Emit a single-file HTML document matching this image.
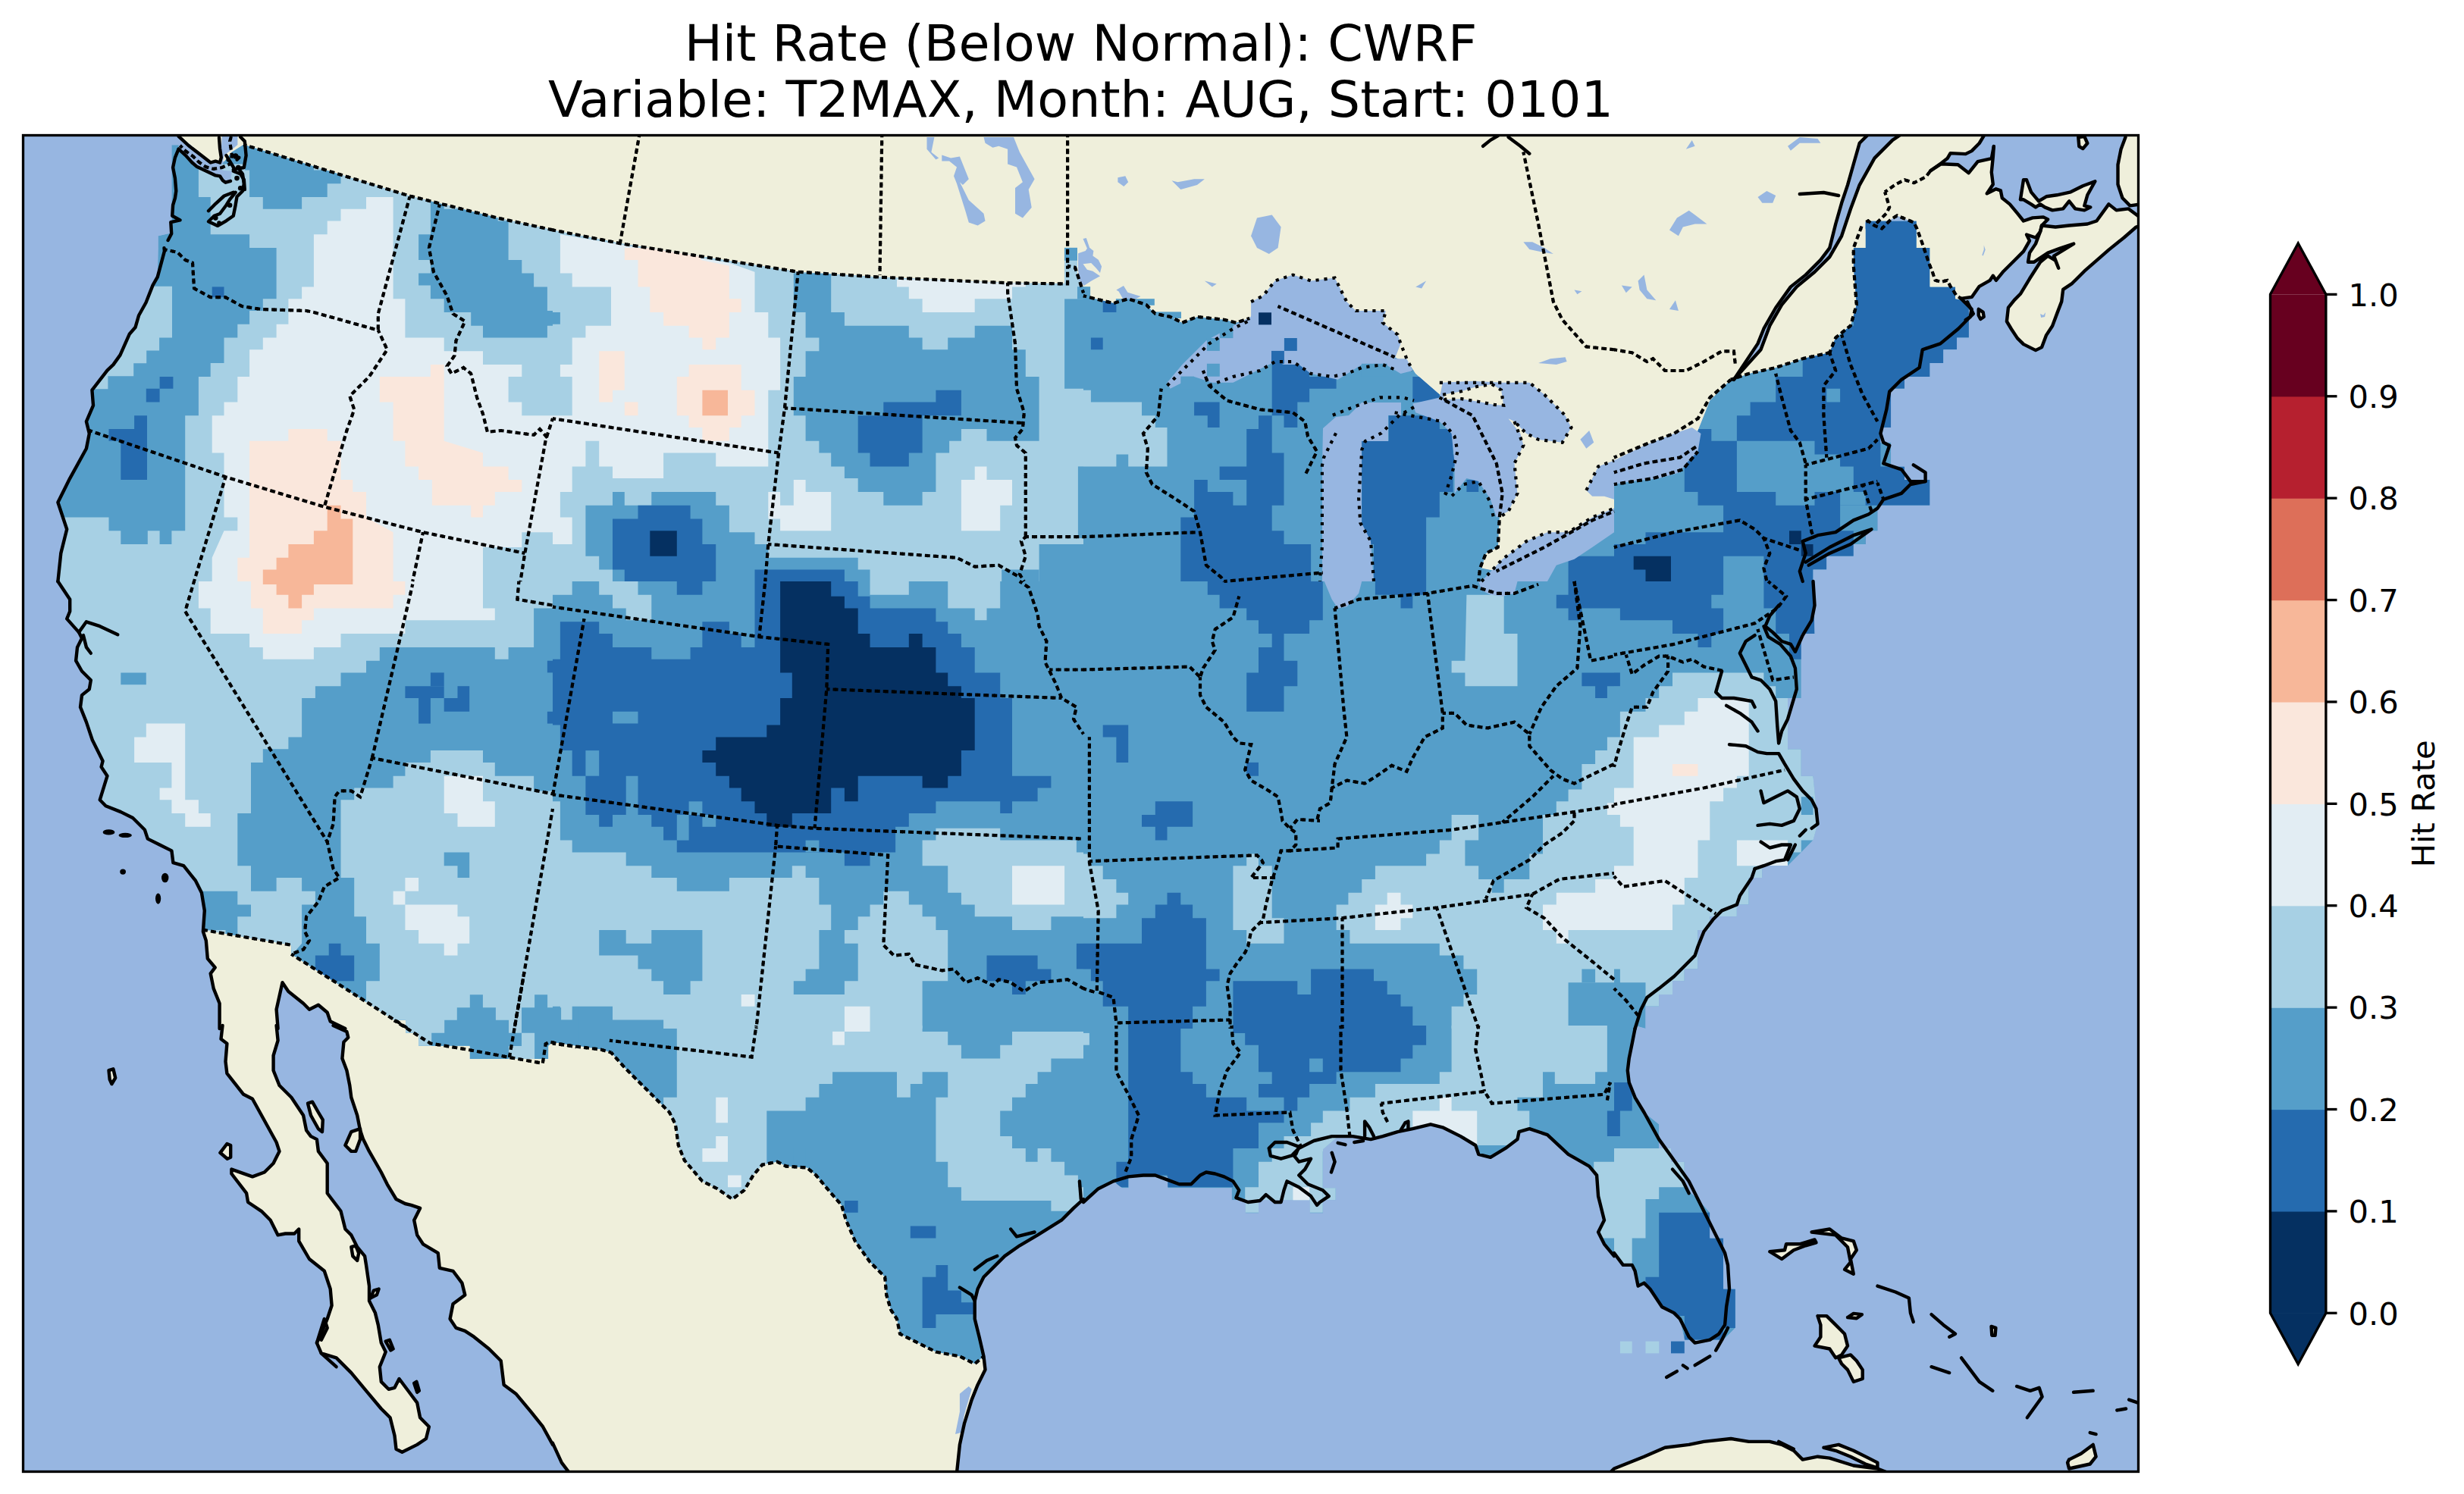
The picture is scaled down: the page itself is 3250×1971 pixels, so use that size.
<!DOCTYPE html><html><head><meta charset="utf-8"><title>Hit Rate (Below Normal): CWRF</title><style>html,body{margin:0;padding:0;background:#fff;}svg{display:block;}text{font-family:"DejaVu Sans","Liberation Sans",sans-serif;}</style></head><body>
<svg width="3250" height="1971" viewBox="0 0 3250 1971">
<rect width="3250" height="1971" fill="#fff"/>
<text x="1425.5" y="80" font-size="66.67" text-anchor="middle">Hit Rate (Below Normal): CWRF</text>
<text x="1425.5" y="154" font-size="66.67" text-anchor="middle">Variable: T2MAX, Month: AUG, Start: 0101</text>
<defs><clipPath id="ax"><rect x="30.5" y="178.5" width="2790.0" height="1763.0"/></clipPath>
<clipPath id="us"><polygon points="236.3,196.7 265.9,214.5 289.6,220.4 305.4,200.7 321.2,190.8 538.3,258.0 656.7,287.6 729.0,303.4 729.0,303.4 817.8,321.1 1052.7,358.7 1163.3,365.8 1329.1,373.3 1408.1,374.5 1408.1,350.8 1417.9,352.7 1423.9,370.5 1429.0,386.3 1429.0,390.3 1468.5,400.1 1488.2,394.2 1511.9,402.1 1523.8,413.9 1543.5,417.9 1559.3,425.8 1579.0,417.9 1614.6,421.8 1630.4,425.8 1648.1,419.9 1665.9,398.2 1685.6,404.1 1839.6,471.2 1859.3,481.1 1867.2,492.9 1898.8,520.6 1942.3,548.2 1973.8,611.4 1981.7,650.9 1977.8,682.5 1975.8,722.0 1960.0,729.9 1954.1,749.6 1973.8,753.6 2100.2,686.4 2129.0,678.5 2129.0,670.6 2129.0,623.3 2208.0,599.6 2239.5,568.0 2255.3,528.5 2283.0,500.8 2306.7,492.9 2342.2,485.0 2377.7,473.2 2413.3,465.3 2421.2,445.5 2440.9,429.7 2448.8,402.1 2444.8,350.8 2444.8,327.1 2460.6,327.1 2460.6,291.5 2527.8,291.5 2527.8,327.1 2545.5,327.1 2545.5,378.4 2579.1,378.4 2579.1,394.2 2598.8,398.2 2596.9,394.2 2596.9,445.5 2581.1,445.5 2581.1,461.3 2563.3,461.3 2563.3,479.1 2545.5,479.1 2545.5,496.9 2512.0,496.9 2512.0,512.7 2494.2,512.7 2494.2,564.0 2480.4,564.0 2480.4,583.8 2494.2,583.8 2494.2,615.4 2512.0,615.4 2512.0,633.1 2545.5,633.1 2545.5,666.7 2476.4,666.7 2476.4,700.3 2460.6,700.3 2460.6,718.0 2444.8,718.0 2444.8,733.8 2409.3,733.8 2409.3,751.6 2391.5,751.6 2391.5,767.0 2391.5,767.0 2393.5,836.1 2375.8,836.1 2375.8,869.7 2375.8,921.0 2358.0,921.0 2358.0,988.2 2375.8,988.2 2375.8,1023.7 2391.5,1023.7 2397.5,1086.9 2391.5,1108.6 2375.8,1124.4 2358.0,1142.2 2324.4,1142.2 2324.4,1158.0 2306.7,1158.0 2306.7,1193.5 2290.9,1193.5 2290.9,1209.3 2255.3,1209.3 2255.3,1227.1 2239.5,1227.1 2239.5,1278.4 2221.8,1278.4 2221.8,1294.2 2206.0,1294.2 2206.0,1312.0 2188.2,1312.0 2188.2,1327.8 2170.5,1327.8 2170.5,1357.0 2156.6,1353.0 2152.7,1376.7 2148.7,1396.4 2146.8,1412.2 2148.7,1428.0 2156.6,1447.8 2168.5,1467.5 2188.2,1483.3 2188.2,1514.9 2204.0,1514.9 2204.0,1532.7 2221.8,1532.7 2221.8,1566.3 2239.5,1582.0 2255.3,1599.8 2255.3,1633.4 2273.1,1633.4 2273.1,1700.5 2288.9,1700.5 2288.9,1751.9 2273.1,1767.7 2221.8,1767.7 2215.9,1740.0 2208.0,1732.1 2192.2,1724.2 2176.4,1700.5 2168.5,1692.6 2160.6,1696.6 2156.6,1676.8 2152.7,1668.9 2140.8,1668.9 2129.0,1657.1 2129.0,1657.1 2116.0,1641.3 2108.1,1625.5 2116.0,1609.7 2108.1,1578.1 2106.1,1550.5 2096.2,1538.6 2068.6,1522.8 2041.0,1497.1 2017.3,1489.2 2003.5,1493.2 2001.5,1503.1 1985.7,1514.9 1965.9,1526.8 1950.2,1522.8 1946.2,1511.0 1926.5,1499.1 1902.8,1487.3 1887.0,1483.3 1863.3,1489.2 1843.6,1493.2 1823.8,1499.1 1808.0,1503.1 1800.0,1500.2 1763.8,1500.2 1745.1,1516.3 1745.1,1567.2 1761.9,1567.2 1761.9,1583.2 1745.1,1583.2 1745.1,1600.6 1727.7,1600.6 1727.7,1583.2 1660.1,1583.2 1660.1,1600.6 1642.7,1600.6 1642.7,1583.2 1624.6,1583.2 1624.6,1567.2 1540.3,1567.2 1540.3,1552.4 1488.7,1552.4 1488.7,1567.2 1480.0,1567.2 1468.5,1558.4 1448.7,1568.2 1429.0,1586.0 1429.0,1582.0 1416.0,1593.9 1400.2,1609.7 1368.6,1629.4 1344.9,1643.3 1325.2,1657.1 1309.4,1672.9 1297.5,1684.7 1289.6,1700.5 1285.7,1716.3 1285.7,1740.0 1291.6,1763.7 1297.5,1789.4 1297.5,1789.4 1285.7,1799.3 1265.9,1789.4 1234.4,1783.5 1210.7,1771.6 1187.0,1759.8 1183.0,1740.0 1175.1,1728.2 1169.2,1708.4 1167.2,1684.7 1147.5,1665.0 1127.8,1637.3 1115.9,1609.7 1110.0,1589.9 1096.2,1574.2 1076.4,1550.5 1064.6,1540.6 1037.0,1538.6 1025.1,1532.7 1005.4,1536.6 993.5,1550.5 981.7,1570.2 965.9,1582.0 946.1,1568.2 926.4,1558.4 902.7,1530.7 894.8,1511.0 890.9,1483.3 883.0,1467.5 859.3,1443.8 843.5,1428.0 823.8,1408.3 806.0,1388.5 792.2,1384.6 729.0,1374.7 723.1,1379.8 723.1,1396.9 619.8,1396.9 619.8,1379.8 552.1,1379.8 552.1,1362.8 535.1,1362.8 535.1,1345.7 520.0,1345.7 384.3,1258.7 384.3,1246.8 269.8,1227.1 269.8,1227.1 267.9,1201.4 265.9,1177.7 258.0,1161.9 242.2,1142.2 228.4,1138.2 226.4,1122.4 210.6,1114.5 194.8,1106.6 190.9,1094.8 175.1,1079.0 159.3,1071.1 139.5,1063.2 131.7,1055.3 141.5,1023.7 133.6,1011.8 135.6,1003.9 121.8,976.3 113.9,952.6 106.0,932.9 108.0,917.1 117.8,909.2 119.8,897.3 108.0,885.5 100.1,871.7 102.0,853.9 108.0,842.0 104.0,834.1 88.2,816.4 92.2,806.5 92.2,790.7 76.4,767.0 76.4,767.0 80.3,729.9 88.2,698.3 76.4,662.7 92.2,631.1 113.9,591.7 117.8,571.9 113.9,556.1 123.0,534.8 121.4,514.7 141.5,488.6 149.4,481.1 158.5,468.4 170.7,440.8 178.6,431.7 183.0,416.3 192.5,399.3 201.5,376.4 207.8,365.4 208.6,327.1 208.6,311.3 226.4,307.3 226.4,191.2 236.3,191.2 236.3,196.7" /></clipPath></defs>
<g clip-path="url(#ax)">
<rect x="0" y="0" width="3250" height="1971" fill="#97b6e1"/>
<polygon points="234.3,169.1 234.3,177.0 258.0,196.7 279.7,214.5 297.5,212.5 305.4,200.7 321.2,190.8 538.3,258.0 656.7,287.6 729.0,303.4 729.0,303.4 817.8,321.1 1052.7,358.7 1163.3,365.8 1329.1,373.3 1408.1,374.5 1408.1,350.8 1417.9,352.7 1423.9,370.5 1429.0,386.3 1429.0,390.3 1468.5,400.1 1488.2,394.2 1511.9,402.1 1523.8,413.9 1543.5,417.9 1559.3,425.8 1579.0,417.9 1614.6,421.8 1630.4,425.8 1648.1,419.9 1665.9,398.2 1685.6,404.1 1839.6,471.2 1859.3,481.1 1867.2,492.9 1898.8,520.6 1942.3,548.2 1973.8,611.4 1981.7,650.9 1977.8,682.5 1975.8,722.0 1960.0,729.9 1954.1,749.6 1973.8,753.6 2100.2,686.4 2129.0,678.5 2129.0,670.6 2129.0,623.3 2208.0,599.6 2239.5,568.0 2255.3,528.5 2283.0,500.8 2286.9,500.8 2318.5,453.4 2326.4,433.7 2342.2,406.0 2361.9,378.4 2381.7,362.6 2401.4,342.9 2413.3,327.1 2421.2,295.5 2429.1,267.8 2437.0,244.1 2444.8,216.5 2452.7,188.8 2464.6,177.0 2464.6,169.1" fill="#efefdb"/>
<polygon points="269.8,1227.1 271.8,1240.9 273.8,1264.6 283.7,1276.4 277.7,1284.3 281.7,1304.1 289.6,1323.8 289.6,1357.0 293.5,1353.0 291.5,1370.8 299.4,1376.7 297.5,1400.4 299.4,1416.2 321.2,1443.8 333.0,1449.8 364.6,1507.0 368.5,1518.9 360.6,1534.7 348.8,1546.5 333.0,1552.4 305.4,1542.6 305.4,1548.5 325.1,1574.2 327.1,1586.0 344.8,1597.8 356.7,1609.7 366.6,1629.4 376.4,1627.5 388.3,1627.5 394.2,1621.5 394.2,1637.3 408.0,1661.0 427.8,1676.8 435.7,1700.5 437.6,1722.2 431.7,1740.0 423.8,1759.8 417.9,1771.6 423.8,1785.4 443.6,1791.4 463.3,1811.1 483.0,1834.8 502.8,1858.5 514.6,1870.3 520.5,1894.0 522.5,1911.8 530.4,1915.8 550.2,1905.9 562.0,1898.0 565.9,1882.2 554.1,1870.3 550.2,1850.6 538.3,1834.8 526.5,1819.0 520.5,1830.8 512.6,1832.8 502.8,1822.9 500.8,1803.2 508.7,1783.5 502.8,1771.6 498.8,1747.9 494.9,1732.1 487.0,1716.3 487.0,1696.6 483.0,1668.9 481.1,1657.1 471.2,1645.2 463.3,1629.4 455.4,1621.5 449.5,1597.8 431.7,1574.2 431.7,1554.4 431.7,1534.7 419.9,1518.9 417.9,1503.1 410.0,1499.1 404.1,1491.2 400.1,1471.5 384.3,1447.8 368.5,1432.0 360.6,1412.2 360.6,1392.5 366.6,1372.7 364.6,1353.0 366.6,1357.0 364.6,1331.7 372.5,1296.2 380.4,1308.0 400.1,1323.8 408.0,1331.7 419.9,1325.8 431.7,1335.7 435.7,1347.5 455.4,1357.0 439.6,1353.0 457.4,1360.9 459.3,1368.8 453.4,1374.7 451.4,1396.4 457.4,1412.2 461.3,1432.0 463.3,1447.8 471.2,1471.5 475.1,1491.2 479.1,1503.1 487.0,1518.9 502.8,1546.5 510.7,1562.3 522.5,1582.0 534.4,1588.0 542.3,1589.9 554.1,1593.9 546.2,1609.7 550.2,1629.4 558.0,1641.3 577.8,1653.1 579.8,1672.9 597.5,1676.8 609.4,1692.6 613.3,1708.4 597.5,1720.3 593.6,1740.0 601.5,1751.9 613.3,1755.8 625.2,1763.7 644.9,1779.5 660.7,1795.3 664.6,1826.9 680.4,1838.7 700.2,1862.4 716.0,1882.2 729.0,1905.9 729.0,1903.9 740.8,1929.6 752.7,1945.4 1262.0,1945.4 1265.9,1905.9 1271.9,1878.2 1281.7,1846.6 1289.6,1826.9 1299.5,1807.1 1297.5,1789.4 1297.5,1789.4 1285.7,1799.3 1265.9,1789.4 1234.4,1783.5 1210.7,1771.6 1187.0,1759.8 1183.0,1740.0 1175.1,1728.2 1169.2,1708.4 1167.2,1684.7 1147.5,1665.0 1127.8,1637.3 1115.9,1609.7 1110.0,1589.9 1096.2,1574.2 1076.4,1550.5 1064.6,1540.6 1037.0,1538.6 1025.1,1532.7 1005.4,1536.6 993.5,1550.5 981.7,1570.2 965.9,1582.0 946.1,1568.2 926.4,1558.4 902.7,1530.7 894.8,1511.0 890.9,1483.3 883.0,1467.5 859.3,1443.8 843.5,1428.0 823.8,1408.3 806.0,1388.5 792.2,1384.6 729.0,1374.7 723.1,1379.8 723.1,1396.9 619.8,1396.9 619.8,1379.8 552.1,1379.8 552.1,1362.8 535.1,1362.8 535.1,1345.7 520.0,1345.7 384.3,1258.7 384.3,1246.8 269.8,1227.1" fill="#efefdb"/>
<polygon points="2522.3,291.5 2528.4,301.5 2536.4,323.6 2544.4,347.7 2548.5,357.7 2552.5,369.8 2560.5,371.8 2568.5,369.8 2572.6,377.8 2580.6,389.9 2588.6,394.9 2580.6,401.9 2520.3,397.9 2516.3,297.5" fill="#efefdb"/>
<polygon points="2286.9,500.8 2322.5,461.3 2334.3,429.7 2350.1,402.1 2369.8,378.4 2393.5,358.7 2413.3,338.9 2429.1,311.3 2440.9,275.7 2452.7,244.1 2472.5,208.6 2496.2,184.9 2508.0,177.0 2506.3,173.0 2616.7,173.0 2616.7,179.0 2610.7,189.0 2600.7,199.1 2592.6,203.1 2572.6,202.1 2568.5,209.1 2560.5,215.2 2546.4,225.2 2546.4,225.2 2560.5,216.2 2582.6,217.2 2596.7,228.2 2608.7,213.1 2626.8,209.1 2629.8,193.1 2629.8,193.1 2628.8,207.1 2626.8,227.2 2628.8,243.3 2620.8,255.3 2632.8,249.3 2638.8,251.3 2640.8,261.3 2650.9,269.4 2660.9,281.4 2669.0,291.5 2681.0,287.4 2695.1,286.4 2701.1,289.4 2693.1,297.5 2693.1,297.5 2691.1,305.5 2685.0,313.5 2673.0,309.5 2677.0,317.6 2669.0,331.6 2656.9,343.7 2642.8,357.7 2632.8,369.8 2628.8,363.7 2624.8,369.8 2610.7,377.8 2600.7,391.9 2586.6,393.9 2586.6,393.9 2580.6,389.9 2572.6,377.8 2568.5,369.8 2560.5,371.8 2552.5,369.8 2548.5,357.7 2544.4,347.7 2536.4,323.6 2528.4,301.5 2524.4,293.5 2502.3,284.4 2494.2,289.4 2482.2,301.5 2472.1,297.5 2464.1,291.5 2460.1,293.5 2460.1,301.5 2500.3,357.7 2510.3,438.0 2444.8,327.1 2444.8,350.8 2448.8,402.1 2440.9,429.7 2421.2,445.5 2413.3,465.3 2377.7,473.2 2342.2,485.0 2306.7,492.9 2286.9,500.8" fill="#efefdb"/>
<polygon points="2693.1,297.5 2711.1,299.5 2729.2,297.5 2753.3,295.5 2765.4,291.5 2781.4,269.4 2791.5,277.4 2807.5,275.4 2823.6,287.4 2823.6,297.5 2817.6,299.5 2801.5,313.5 2781.4,329.6 2765.4,343.7 2749.3,357.7 2741.3,365.8 2733.2,373.8 2721.2,381.8 2719.2,397.9 2713.1,413.9 2707.1,430.0 2699.1,442.1 2693.1,458.1 2685.0,462.1 2669.0,454.1 2660.9,446.1 2652.9,434.0 2646.9,424.0 2648.9,405.9 2656.9,395.9 2664.9,387.8 2677.0,367.8 2691.1,345.7 2701.1,337.6 2711.1,343.7 2715.2,353.7 2709.1,337.6 2735.2,321.6 2717.2,327.6 2701.1,333.6 2683.0,345.7 2675.0,345.7 2677.0,333.6 2685.0,321.6 2691.1,305.5" fill="#efefdb"/>
<polygon points="2664.9,263.3 2669.0,237.2 2673.0,237.2 2679.0,253.3 2689.0,265.4 2699.1,259.3 2713.1,257.3 2731.2,253.3 2747.3,245.3 2763.4,239.2 2753.3,257.3 2749.3,271.4 2757.3,273.4 2749.3,277.4 2737.2,275.4 2729.2,265.4 2721.2,275.4 2707.1,277.4 2697.1,273.4 2691.1,269.4 2685.0,273.4 2679.0,269.4 2669.0,263.3" fill="#efefdb"/>
<polygon points="2799.5,175.0 2823.6,175.0 2823.6,269.4 2809.5,271.4 2799.5,261.3 2793.5,243.3 2793.5,217.2 2797.5,197.1 2803.5,183.0" fill="#efefdb"/>
<polygon points="2741.3,181.0 2749.3,180.0 2753.3,189.0 2747.3,196.1 2742.3,193.1" fill="#efefdb"/>
<polygon points="2609.7,407.9 2615.7,411.9 2616.7,418.0 2612.3,421.0 2609.7,416.0" fill="#efefdb"/>
<polygon points="143.5,1412.2 149.4,1410.3 152.2,1422.1 147.4,1430.0 144.7,1424.1" fill="#efefdb"/>
<polygon points="290.4,1520.8 299.4,1509.0 304.2,1511.0 304.2,1526.8 299.8,1528.7" fill="#efefdb"/>
<polygon points="406.0,1455.7 412.0,1453.7 419.9,1467.5 425.8,1477.4 425.0,1493.2 419.9,1489.2 410.0,1471.5" fill="#efefdb"/>
<polygon points="455.4,1511.0 463.3,1493.2 475.1,1489.2 475.1,1503.1 469.2,1518.9 463.3,1518.9" fill="#efefdb"/>
<polygon points="463.3,1645.2 469.2,1643.3 473.2,1653.1 471.2,1663.0 465.3,1657.1" fill="#efefdb"/>
<polygon points="489.0,1712.4 492.9,1702.5 499.6,1700.5 496.9,1708.4" fill="#efefdb"/>
<polygon points="508.7,1769.6 513.8,1767.7 518.6,1779.5 515.4,1781.5" fill="#efefdb"/>
<polygon points="546.2,1824.9 549.4,1822.9 552.9,1834.8 550.2,1836.8" fill="#efefdb"/>
<polygon points="2334.3,1651.2 2350.1,1661.0 2365.9,1649.2 2381.7,1643.3 2395.5,1639.3 2393.5,1635.4 2373.8,1641.3 2356.0,1641.3 2354.0,1649.2" fill="#efefdb"/>
<polygon points="2389.6,1625.5 2413.3,1621.5 2429.1,1633.4 2444.8,1637.3 2448.8,1649.2 2440.9,1661.0 2444.8,1680.8 2433.0,1674.9 2440.9,1665.0 2437.0,1645.2 2421.2,1629.4" fill="#efefdb"/>
<polygon points="2397.5,1736.1 2409.3,1736.1 2421.2,1747.9 2433.0,1759.8 2437.0,1775.6 2429.1,1787.4 2421.2,1791.4 2413.3,1779.5 2393.5,1775.6 2401.4,1763.7 2401.4,1747.9" fill="#efefdb"/>
<polygon points="2425.1,1791.4 2440.9,1787.4 2448.8,1795.3 2456.7,1807.1 2456.7,1819.0 2444.8,1822.9 2437.0,1807.1 2429.1,1799.3" fill="#efefdb"/>
<polygon points="2437.0,1738.0 2444.8,1732.9 2455.9,1734.1 2448.8,1739.2" fill="#efefdb"/>
<polygon points="2626.5,1749.9 2632.4,1751.9 2631.6,1761.7 2627.3,1761.7" fill="#efefdb"/>
<polygon points="2405.4,1909.8 2425.1,1905.9 2444.8,1913.8 2464.6,1923.6 2476.4,1929.6 2476.4,1936.7 2460.6,1931.5 2440.9,1921.7 2421.2,1913.8" fill="#efefdb"/>
<polygon points="2729.1,1925.6 2744.9,1917.7 2760.7,1905.9 2764.6,1921.7 2756.7,1931.5 2729.1,1937.5 2727.1,1929.6" fill="#efefdb"/>
<polygon points="2121.1,1945.4 2129.0,1937.5 2168.5,1921.7 2196.1,1909.8 2227.7,1905.9 2247.4,1901.9 2283.0,1898.0 2306.7,1901.9 2334.3,1901.9 2350.1,1905.9 2365.9,1913.8 2377.7,1925.6 2397.5,1921.7 2413.3,1923.6 2444.8,1933.5 2476.4,1937.5 2496.2,1945.4" fill="#efefdb"/>
<g clip-path="url(#us)">
<polygon points="236.3,196.7 265.9,214.5 289.6,220.4 305.4,200.7 321.2,190.8 538.3,258.0 656.7,287.6 729.0,303.4 729.0,303.4 817.8,321.1 1052.7,358.7 1163.3,365.8 1329.1,373.3 1408.1,374.5 1408.1,350.8 1417.9,352.7 1423.9,370.5 1429.0,386.3 1429.0,390.3 1468.5,400.1 1488.2,394.2 1511.9,402.1 1523.8,413.9 1543.5,417.9 1559.3,425.8 1579.0,417.9 1614.6,421.8 1630.4,425.8 1648.1,419.9 1665.9,398.2 1685.6,404.1 1839.6,471.2 1859.3,481.1 1867.2,492.9 1898.8,520.6 1942.3,548.2 1973.8,611.4 1981.7,650.9 1977.8,682.5 1975.8,722.0 1960.0,729.9 1954.1,749.6 1973.8,753.6 2100.2,686.4 2129.0,678.5 2129.0,670.6 2129.0,623.3 2208.0,599.6 2239.5,568.0 2255.3,528.5 2283.0,500.8 2306.7,492.9 2342.2,485.0 2377.7,473.2 2413.3,465.3 2421.2,445.5 2440.9,429.7 2448.8,402.1 2444.8,350.8 2444.8,327.1 2460.6,327.1 2460.6,291.5 2527.8,291.5 2527.8,327.1 2545.5,327.1 2545.5,378.4 2579.1,378.4 2579.1,394.2 2598.8,398.2 2596.9,394.2 2596.9,445.5 2581.1,445.5 2581.1,461.3 2563.3,461.3 2563.3,479.1 2545.5,479.1 2545.5,496.9 2512.0,496.9 2512.0,512.7 2494.2,512.7 2494.2,564.0 2480.4,564.0 2480.4,583.8 2494.2,583.8 2494.2,615.4 2512.0,615.4 2512.0,633.1 2545.5,633.1 2545.5,666.7 2476.4,666.7 2476.4,700.3 2460.6,700.3 2460.6,718.0 2444.8,718.0 2444.8,733.8 2409.3,733.8 2409.3,751.6 2391.5,751.6 2391.5,767.0 2391.5,767.0 2393.5,836.1 2375.8,836.1 2375.8,869.7 2375.8,921.0 2358.0,921.0 2358.0,988.2 2375.8,988.2 2375.8,1023.7 2391.5,1023.7 2397.5,1086.9 2391.5,1108.6 2375.8,1124.4 2358.0,1142.2 2324.4,1142.2 2324.4,1158.0 2306.7,1158.0 2306.7,1193.5 2290.9,1193.5 2290.9,1209.3 2255.3,1209.3 2255.3,1227.1 2239.5,1227.1 2239.5,1278.4 2221.8,1278.4 2221.8,1294.2 2206.0,1294.2 2206.0,1312.0 2188.2,1312.0 2188.2,1327.8 2170.5,1327.8 2170.5,1357.0 2156.6,1353.0 2152.7,1376.7 2148.7,1396.4 2146.8,1412.2 2148.7,1428.0 2156.6,1447.8 2168.5,1467.5 2188.2,1483.3 2188.2,1514.9 2204.0,1514.9 2204.0,1532.7 2221.8,1532.7 2221.8,1566.3 2239.5,1582.0 2255.3,1599.8 2255.3,1633.4 2273.1,1633.4 2273.1,1700.5 2288.9,1700.5 2288.9,1751.9 2273.1,1767.7 2221.8,1767.7 2215.9,1740.0 2208.0,1732.1 2192.2,1724.2 2176.4,1700.5 2168.5,1692.6 2160.6,1696.6 2156.6,1676.8 2152.7,1668.9 2140.8,1668.9 2129.0,1657.1 2129.0,1657.1 2116.0,1641.3 2108.1,1625.5 2116.0,1609.7 2108.1,1578.1 2106.1,1550.5 2096.2,1538.6 2068.6,1522.8 2041.0,1497.1 2017.3,1489.2 2003.5,1493.2 2001.5,1503.1 1985.7,1514.9 1965.9,1526.8 1950.2,1522.8 1946.2,1511.0 1926.5,1499.1 1902.8,1487.3 1887.0,1483.3 1863.3,1489.2 1843.6,1493.2 1823.8,1499.1 1808.0,1503.1 1800.0,1500.2 1763.8,1500.2 1745.1,1516.3 1745.1,1567.2 1761.9,1567.2 1761.9,1583.2 1745.1,1583.2 1745.1,1600.6 1727.7,1600.6 1727.7,1583.2 1660.1,1583.2 1660.1,1600.6 1642.7,1600.6 1642.7,1583.2 1624.6,1583.2 1624.6,1567.2 1540.3,1567.2 1540.3,1552.4 1488.7,1552.4 1488.7,1567.2 1480.0,1567.2 1468.5,1558.4 1448.7,1568.2 1429.0,1586.0 1429.0,1582.0 1416.0,1593.9 1400.2,1609.7 1368.6,1629.4 1344.9,1643.3 1325.2,1657.1 1309.4,1672.9 1297.5,1684.7 1289.6,1700.5 1285.7,1716.3 1285.7,1740.0 1291.6,1763.7 1297.5,1789.4 1297.5,1789.4 1285.7,1799.3 1265.9,1789.4 1234.4,1783.5 1210.7,1771.6 1187.0,1759.8 1183.0,1740.0 1175.1,1728.2 1169.2,1708.4 1167.2,1684.7 1147.5,1665.0 1127.8,1637.3 1115.9,1609.7 1110.0,1589.9 1096.2,1574.2 1076.4,1550.5 1064.6,1540.6 1037.0,1538.6 1025.1,1532.7 1005.4,1536.6 993.5,1550.5 981.7,1570.2 965.9,1582.0 946.1,1568.2 926.4,1558.4 902.7,1530.7 894.8,1511.0 890.9,1483.3 883.0,1467.5 859.3,1443.8 843.5,1428.0 823.8,1408.3 806.0,1388.5 792.2,1384.6 729.0,1374.7 723.1,1379.8 723.1,1396.9 619.8,1396.9 619.8,1379.8 552.1,1379.8 552.1,1362.8 535.1,1362.8 535.1,1345.7 520.0,1345.7 384.3,1258.7 384.3,1246.8 269.8,1227.1 269.8,1227.1 267.9,1201.4 265.9,1177.7 258.0,1161.9 242.2,1142.2 228.4,1138.2 226.4,1122.4 210.6,1114.5 194.8,1106.6 190.9,1094.8 175.1,1079.0 159.3,1071.1 139.5,1063.2 131.7,1055.3 141.5,1023.7 133.6,1011.8 135.6,1003.9 121.8,976.3 113.9,952.6 106.0,932.9 108.0,917.1 117.8,909.2 119.8,897.3 108.0,885.5 100.1,871.7 102.0,853.9 108.0,842.0 104.0,834.1 88.2,816.4 92.2,806.5 92.2,790.7 76.4,767.0 76.4,767.0 80.3,729.9 88.2,698.3 76.4,662.7 92.2,631.1 113.9,591.7 117.8,571.9 113.9,556.1 123.0,534.8 121.4,514.7 141.5,488.6 149.4,481.1 158.5,468.4 170.7,440.8 178.6,431.7 183.0,416.3 192.5,399.3 201.5,376.4 207.8,365.4 208.6,327.1 208.6,311.3 226.4,307.3 226.4,191.2 236.3,191.2 236.3,196.7" fill="#559ec9"/>
<polygon points="261.9,216.5 729.0,216.5 729.0,767.0 76.4,767.0 76.4,682.5 143.5,682.5 143.5,700.3 159.3,700.3 159.3,718.0 194.8,718.0 194.8,700.3 210.6,700.3 210.6,718.0 226.4,718.0 226.4,700.3 244.2,700.3 244.2,548.2 261.9,548.2 261.9,496.9 277.7,496.9 277.7,479.1 295.5,479.1 295.5,445.5 313.3,445.5 313.3,427.8 329.1,427.8 329.1,410.0 346.8,410.0 346.8,394.2 364.6,394.2 364.6,327.1 329.1,327.1 329.1,309.3 277.7,309.3 277.7,259.9 261.9,259.9" fill="#a7d0e4"/>
<polygon points="567.9,259.9 585.7,259.9 585.7,275.7 656.7,275.7 656.7,291.5 670.6,291.5 670.6,342.9 688.3,342.9 688.3,360.6 704.1,360.6 704.1,378.4 721.9,378.4 721.9,410.0 729.0,410.0 729.0,429.7 721.9,429.7 721.9,445.5 637.0,445.5 637.0,429.7 621.2,429.7 621.2,412.0 585.7,412.0 585.7,394.2 567.9,394.2 567.9,376.4 552.1,376.4 552.1,360.6 567.9,360.6 567.9,342.9 552.1,342.9 552.1,309.3 567.9,309.3" fill="#559ec9"/>
<polygon points="323.1,190.8 364.6,190.8 364.6,208.6 413.9,208.6 413.9,224.4 449.5,224.4 449.5,242.2 431.7,242.2 431.7,259.9 398.1,259.9 398.1,275.7 346.8,275.7 346.8,259.9 329.1,259.9 329.1,224.4 323.1,224.4" fill="#559ec9"/>
<polygon points="483.0,259.9 518.6,259.9 518.6,394.2 534.4,394.2 534.4,445.5 585.7,445.5 585.7,463.3 637.0,463.3 637.0,481.1 688.3,481.1 688.3,496.9 670.6,496.9 670.6,530.4 688.3,530.4 688.3,548.2 729.0,548.2 729.0,702.2 688.3,702.2 688.3,722.0 637.0,722.0 637.0,767.0 279.7,767.0 279.7,735.8 295.5,700.3 313.3,700.3 313.3,682.5 295.5,682.5 295.5,597.6 279.7,597.6 279.7,548.2 295.5,548.2 295.5,530.4 313.3,530.4 313.3,496.9 329.1,496.9 329.1,461.3 346.8,461.3 346.8,445.5 364.6,445.5 364.6,427.8 380.4,427.8 380.4,394.2 398.1,394.2 398.1,378.4 413.9,378.4 413.9,309.3 431.7,309.3 431.7,291.5 449.5,291.5 449.5,275.7 483.0,275.7" fill="#e2edf3"/>
<polygon points="500.8,496.9 567.9,496.9 567.9,481.1 585.7,481.1 585.7,581.8 637.0,597.6 637.0,615.4 670.6,615.4 670.6,633.1 688.3,633.1 688.3,648.9 652.8,648.9 652.8,666.7 637.0,666.7 637.0,682.5 621.2,682.5 621.2,666.7 569.9,666.7 569.9,633.1 552.1,633.1 552.1,615.4 534.4,615.4 534.4,581.8 518.6,581.8 518.6,530.4 500.8,530.4" fill="#fae7dc"/>
<polygon points="380.4,566.0 431.7,566.0 431.7,581.8 449.5,581.8 449.5,633.1 465.3,633.1 465.3,648.9 483.0,648.9 483.0,682.5 518.6,702.2 518.6,767.0 313.3,767.0 313.3,735.8 329.1,735.8 329.1,581.8 380.4,581.8" fill="#fae7dc"/>
<polygon points="431.7,666.7 449.5,666.7 449.5,684.5 465.3,684.5 465.3,767.0 346.8,767.0 346.8,751.6 364.6,751.6 364.6,735.8 380.4,735.8 380.4,718.0 413.9,718.0 413.9,700.3 431.7,700.3" fill="#f7b799"/>
<polygon points="279.7,378.4 295.5,378.4 295.5,392.2 279.7,392.2" fill="#256baf"/>
<polygon points="210.6,496.9 228.4,496.9 228.4,512.7 210.6,512.7" fill="#256baf"/>
<polygon points="192.8,512.7 210.6,512.7 210.6,530.4 192.8,530.4" fill="#256baf"/>
<polygon points="177.1,548.2 194.0,548.2 194.0,633.1 159.3,633.1 159.3,581.8 143.5,581.8 143.5,566.0 177.1,566.0" fill="#256baf"/>
<polygon points="193.2,377.7 227.0,377.7 227.0,445.5 210.1,445.5 210.1,462.4 193.2,462.4 193.2,479.3 176.2,479.3 176.2,496.3 142.4,496.3 142.4,513.2 124.7,513.2 124.7,497.0 141.6,480.1 158.5,462.4 158.5,445.5 175.5,428.5 175.5,411.6 192.4,394.7" fill="#a7d0e4"/>
<polygon points="729.0,291.5 1429.0,291.5 1429.0,767.0 729.0,767.0" fill="#a7d0e4"/>
<polygon points="1046.8,360.6 1096.2,360.6 1096.2,412.0 1113.9,412.0 1113.9,429.7 1198.8,429.7 1198.8,445.5 1216.6,445.5 1216.6,461.3 1250.2,461.3 1250.2,445.5 1285.7,445.5 1285.7,429.7 1335.0,429.7 1335.0,461.3 1352.8,461.3 1352.8,496.9 1370.6,496.9 1370.6,581.8 1301.5,581.8 1301.5,566.0 1267.9,566.0 1267.9,581.8 1252.1,581.8 1252.1,597.6 1234.4,597.6 1234.4,648.9 1216.6,648.9 1216.6,666.7 1165.3,666.7 1165.3,648.9 1131.7,648.9 1131.7,631.1 1113.9,631.1 1113.9,615.4 1096.2,615.4 1096.2,597.6 1080.4,597.6 1080.4,581.8 1062.6,581.8 1062.6,548.2 1046.8,548.2 1046.8,496.9 1062.6,496.9 1062.6,463.3 1080.4,463.3 1080.4,445.5 1062.6,445.5 1062.6,412.0 1046.8,412.0" fill="#559ec9"/>
<polygon points="772.4,666.7 808.0,666.7 808.0,648.9 823.8,648.9 823.8,666.7 859.3,666.7 859.3,648.9 944.2,648.9 944.2,666.7 961.9,666.7 961.9,702.2 995.5,702.2 995.5,718.0 1013.3,718.0 1013.3,735.8 1131.7,735.8 1131.7,751.6 1147.5,751.6 1147.5,767.0 808.0,767.0 808.0,751.6 790.2,751.6 790.2,733.8 772.4,733.8" fill="#559ec9"/>
<polygon points="1404.1,394.2 1429.0,394.2 1429.0,512.7 1404.1,512.7" fill="#559ec9"/>
<polygon points="1421.9,615.4 1429.0,615.4 1429.0,710.1 1421.9,710.1" fill="#559ec9"/>
<polygon points="1370.6,718.0 1429.0,718.0 1429.0,767.0 1370.6,767.0" fill="#559ec9"/>
<polygon points="1321.2,751.6 1370.6,751.6 1370.6,767.0 1321.2,767.0" fill="#559ec9"/>
<polygon points="729.0,412.0 738.9,412.0 738.9,427.8 729.0,427.8" fill="#559ec9"/>
<polygon points="1404.1,327.1 1419.9,327.1 1419.9,342.9 1404.1,342.9" fill="#559ec9"/>
<polygon points="1165.3,530.4 1234.4,530.4 1234.4,514.7 1267.9,514.7 1267.9,548.2 1216.6,548.2 1216.6,597.6 1198.8,597.6 1198.8,615.4 1147.5,615.4 1147.5,597.6 1131.7,597.6 1131.7,548.2 1165.3,548.2" fill="#256baf"/>
<polygon points="841.5,666.7 910.6,666.7 910.6,684.5 926.4,684.5 926.4,718.0 944.2,718.0 944.2,767.0 823.8,767.0 823.8,751.6 808.0,751.6 808.0,684.5 841.5,684.5" fill="#256baf"/>
<polygon points="995.5,751.6 1113.9,751.6 1113.9,767.0 995.5,767.0" fill="#256baf"/>
<polygon points="857.3,700.3 892.8,700.3 892.8,733.8 857.3,733.8" fill="#053061"/>
<polygon points="738.9,309.3 961.9,346.8 995.5,358.7 995.5,412.0 1013.3,412.0 1013.3,445.5 1029.1,445.5 1029.1,514.7 1013.3,514.7 1013.3,615.4 944.2,615.4 944.2,597.6 875.1,597.6 875.1,631.1 808.0,631.1 808.0,615.4 790.2,615.4 790.2,581.8 772.4,581.8 772.4,615.4 754.7,615.4 754.7,648.9 738.9,648.9 738.9,682.5 754.7,682.5 754.7,718.0 729.0,718.0 729.0,548.2 754.7,548.2 754.7,496.9 738.9,496.9 738.9,481.1 754.7,481.1 754.7,445.5 772.4,445.5 772.4,429.7 806.0,429.7 806.0,378.4 754.7,378.4 754.7,360.6 738.9,360.6" fill="#e2edf3"/>
<polygon points="1183.0,368.5 1352.8,368.5 1352.8,378.4 1335.0,378.4 1335.0,394.2 1285.7,394.2 1285.7,412.0 1216.6,412.0 1216.6,394.2 1198.8,394.2 1198.8,378.4 1183.0,378.4" fill="#e2edf3"/>
<polygon points="1013.3,648.9 1029.1,648.9 1029.1,666.7 1046.8,666.7 1046.8,633.1 1062.6,633.1 1062.6,648.9 1096.2,648.9 1096.2,700.3 1029.1,700.3 1029.1,684.5 1013.3,684.5" fill="#e2edf3"/>
<polygon points="1267.9,633.1 1285.7,633.1 1285.7,615.4 1301.5,615.4 1301.5,633.1 1335.0,633.1 1335.0,666.7 1319.2,666.7 1319.2,700.3 1267.9,700.3" fill="#e2edf3"/>
<polygon points="823.8,327.1 924.4,327.1 924.4,342.9 961.9,350.8 961.9,394.2 977.7,394.2 977.7,412.0 961.9,412.0 961.9,445.5 944.2,445.5 944.2,461.3 926.4,461.3 926.4,445.5 908.6,445.5 908.6,429.7 875.1,429.7 875.1,412.0 857.3,412.0 857.3,378.4 841.5,378.4 841.5,342.9 823.8,342.9" fill="#fae7dc"/>
<polygon points="790.2,463.3 823.8,463.3 823.8,514.7 808.0,514.7 808.0,530.4 790.2,530.4" fill="#fae7dc"/>
<polygon points="823.8,530.4 841.5,530.4 841.5,548.2 823.8,548.2" fill="#fae7dc"/>
<polygon points="908.6,481.1 977.7,481.1 977.7,514.7 995.5,514.7 995.5,548.2 977.7,548.2 977.7,564.0 961.9,564.0 961.9,581.8 926.4,581.8 926.4,564.0 908.6,564.0 908.6,548.2 892.8,548.2 892.8,496.9 908.6,496.9" fill="#fae7dc"/>
<polygon points="926.4,514.7 960.0,514.7 960.0,548.2 926.4,548.2" fill="#f7b799"/>
<polygon points="1429.0,514.7 1438.9,514.7 1438.9,530.4 1506.0,530.4 1506.0,548.2 1523.8,548.2 1523.8,564.0 1539.5,564.0 1539.5,615.4 1488.2,615.4 1488.2,599.6 1472.4,599.6 1472.4,615.4 1429.0,615.4" fill="#a7d0e4"/>
<polygon points="1454.7,396.2 1472.4,396.2 1472.4,412.0 1454.7,412.0" fill="#256baf"/>
<polygon points="1438.9,445.5 1454.7,445.5 1454.7,461.3 1438.9,461.3" fill="#256baf"/>
<polygon points="1693.5,445.5 1711.3,445.5 1711.3,461.3 1693.5,461.3" fill="#256baf"/>
<polygon points="1863.3,496.9 1898.8,496.9 1898.8,530.4 1863.3,530.4" fill="#256baf"/>
<polygon points="1934.4,633.1 1950.2,633.1 1950.2,648.9 1934.4,648.9" fill="#256baf"/>
<polygon points="2068.6,733.8 2129.0,733.8 2129.0,767.0 2068.6,767.0" fill="#256baf"/>
<polygon points="1677.7,463.3 1693.5,463.3 1693.5,481.1 1727.1,481.1 1727.1,496.9 1762.6,496.9 1762.6,512.7 1727.1,512.7 1727.1,530.4 1711.3,530.4 1711.3,564.0 1693.5,564.0 1693.5,548.2 1677.7,548.2" fill="#256baf"/>
<polygon points="1575.1,530.4 1608.6,530.4 1608.6,564.0 1592.8,564.0 1592.8,548.2 1575.1,548.2" fill="#256baf"/>
<polygon points="1660.0,548.2 1677.7,548.2 1677.7,597.6 1693.5,597.6 1693.5,666.7 1677.7,666.7 1677.7,700.3 1693.5,700.3 1693.5,718.0 1729.1,718.0 1729.1,767.0 1557.3,767.0 1557.3,682.5 1575.1,682.5 1575.1,633.1 1592.8,633.1 1592.8,648.9 1626.4,648.9 1626.4,666.7 1644.2,666.7 1644.2,633.1 1608.6,633.1 1608.6,615.4 1644.2,615.4 1644.2,566.0 1660.0,566.0" fill="#256baf"/>
<polygon points="1831.7,548.2 1898.8,548.2 1898.8,566.0 1916.6,566.0 1916.6,599.6 1932.4,599.6 1932.4,615.4 1916.6,615.4 1916.6,648.9 1898.8,648.9 1898.8,682.5 1881.1,682.5 1881.1,767.0 1812.0,767.0 1812.0,718.0 1796.2,718.0 1796.2,581.8 1831.7,581.8" fill="#256baf"/>
<polygon points="1660.0,412.0 1677.7,412.0 1677.7,427.8 1660.0,427.8" fill="#053061"/>
<polygon points="2460.6,291.5 2527.8,291.5 2527.8,327.1 2545.5,327.1 2545.5,378.4 2579.1,378.4 2579.1,394.2 2596.9,394.2 2596.9,445.5 2581.1,445.5 2581.1,461.3 2563.3,461.3 2563.3,479.1 2545.5,479.1 2545.5,496.9 2512.0,496.9 2512.0,512.7 2494.2,512.7 2494.2,564.0 2480.4,564.0 2480.4,615.4 2512.0,615.4 2512.0,633.1 2545.5,633.1 2545.5,666.7 2476.4,666.7 2476.4,700.3 2460.6,700.3 2460.6,718.0 2444.8,718.0 2444.8,733.8 2409.3,733.8 2409.3,751.6 2391.5,751.6 2391.5,767.0 2129.0,767.0 2129.0,718.0 2170.5,718.0 2170.5,702.2 2273.1,702.2 2273.1,666.7 2239.5,666.7 2239.5,648.9 2221.8,648.9 2221.8,599.6 2239.5,599.6 2239.5,566.0 2257.3,566.0 2257.3,581.8 2290.9,581.8 2290.9,548.2 2308.6,548.2 2308.6,530.4 2342.2,530.4 2342.2,496.9 2377.7,496.9 2377.7,463.3 2411.3,463.3 2411.3,445.5 2429.1,445.5 2429.1,429.7 2444.8,429.7 2444.8,327.1 2460.6,327.1" fill="#256baf"/>
<polygon points="2290.9,581.8 2393.5,581.8 2393.5,599.6 2427.1,599.6 2427.1,615.4 2444.8,615.4 2444.8,648.9 2460.6,648.9 2460.6,666.7 2427.1,666.7 2427.1,648.9 2393.5,648.9 2393.5,666.7 2342.2,666.7 2342.2,648.9 2290.9,648.9" fill="#559ec9"/>
<polygon points="2409.3,512.7 2427.1,512.7 2427.1,530.4 2409.3,530.4" fill="#559ec9"/>
<polygon points="2427.1,666.7 2476.4,666.7 2476.4,700.3 2427.1,700.3" fill="#559ec9"/>
<polygon points="2444.8,700.3 2460.6,700.3 2460.6,718.0 2444.8,718.0" fill="#559ec9"/>
<polygon points="2273.1,733.8 2326.4,733.8 2326.4,767.0 2273.1,767.0" fill="#559ec9"/>
<polygon points="2154.7,733.8 2204.0,733.8 2204.0,767.0 2170.5,767.0 2170.5,751.6 2154.7,751.6" fill="#053061"/>
<polygon points="2360.0,700.3 2375.8,700.3 2375.8,718.0 2360.0,718.0" fill="#053061"/>
<polygon points="2375.8,718.0 2391.5,718.0 2391.5,733.8 2375.8,733.8" fill="#053061"/>
<polygon points="29.0,767.0 729.0,767.0 729.0,1357.0 29.0,1357.0" fill="#a7d0e4"/>
<polygon points="159.3,887.4 192.8,887.4 192.8,903.2 159.3,903.2" fill="#559ec9"/>
<polygon points="500.8,853.9 652.8,853.9 652.8,869.7 670.6,869.7 670.6,853.9 704.1,853.9 704.1,802.5 729.0,802.5 729.0,1043.4 704.1,1043.4 704.1,1023.7 652.8,1023.7 652.8,1005.9 637.0,1005.9 637.0,990.1 567.9,990.1 567.9,1005.9 534.4,1005.9 534.4,1023.7 518.6,1023.7 518.6,1039.5 467.2,1039.5 467.2,1055.3 449.5,1055.3 449.5,1158.0 467.2,1158.0 467.2,1209.3 483.0,1209.3 483.0,1244.8 500.8,1244.8 500.8,1294.2 483.0,1294.2 483.0,1327.8 467.2,1327.8 384.3,1260.6 398.1,1244.8 398.1,1193.5 415.9,1193.5 415.9,1175.7 398.1,1175.7 398.1,1158.0 364.6,1158.0 364.6,1175.7 331.0,1175.7 331.0,1142.2 313.3,1142.2 313.3,1073.1 331.0,1073.1 331.0,1005.9 346.8,1005.9 346.8,988.2 380.4,988.2 380.4,972.4 398.1,972.4 398.1,921.0 415.9,921.0 415.9,905.2 449.5,905.2 449.5,887.4 483.0,887.4 483.0,871.7 500.8,871.7" fill="#559ec9"/>
<polygon points="265.9,1175.7 313.3,1175.7 313.3,1193.5 331.0,1193.5 331.0,1209.3 313.3,1209.3 313.3,1244.8 297.5,1244.8 297.5,1227.1 269.8,1227.1" fill="#559ec9"/>
<polygon points="585.7,1124.4 619.2,1124.4 619.2,1158.0 603.5,1158.0 603.5,1142.2 585.7,1142.2" fill="#559ec9"/>
<polygon points="567.9,887.4 585.7,887.4 585.7,905.2 567.9,905.2" fill="#256baf"/>
<polygon points="534.4,905.2 585.7,905.2 585.7,921.0 534.4,921.0" fill="#256baf"/>
<polygon points="552.1,921.0 567.9,921.0 567.9,954.6 552.1,954.6" fill="#256baf"/>
<polygon points="585.7,921.0 619.2,921.0 619.2,938.8 585.7,938.8" fill="#256baf"/>
<polygon points="603.5,905.2 619.2,905.2 619.2,921.0 603.5,921.0" fill="#256baf"/>
<polygon points="721.9,871.7 729.0,871.7 729.0,887.4 721.9,887.4" fill="#256baf"/>
<polygon points="721.9,938.8 729.0,938.8 729.0,954.6 721.9,954.6" fill="#256baf"/>
<polygon points="415.9,1260.6 433.7,1260.6 433.7,1244.8 449.5,1244.8 449.5,1260.6 467.2,1260.6 467.2,1294.2 415.9,1294.2" fill="#256baf"/>
<polygon points="261.9,767.0 637.0,767.0 637.0,802.5 652.8,802.5 652.8,818.3 534.4,818.3 534.4,836.1 449.5,836.1 449.5,853.9 413.9,853.9 413.9,869.7 346.8,869.7 346.8,853.9 329.1,853.9 329.1,836.1 277.7,836.1 277.7,802.5 261.9,802.5" fill="#e2edf3"/>
<polygon points="192.8,954.6 244.2,954.6 244.2,1055.3 261.9,1055.3 261.9,1073.1 277.7,1073.1 277.7,1090.8 244.2,1090.8 244.2,1073.1 226.4,1073.1 226.4,1055.3 210.6,1055.3 210.6,1039.5 226.4,1039.5 226.4,1005.9 177.1,1005.9 177.1,972.4 192.8,972.4" fill="#e2edf3"/>
<polygon points="585.7,1023.7 637.0,1023.7 637.0,1057.3 652.8,1057.3 652.8,1090.8 603.5,1090.8 603.5,1073.1 585.7,1073.1" fill="#e2edf3"/>
<polygon points="534.4,1158.0 552.1,1158.0 552.1,1175.7 534.4,1175.7" fill="#e2edf3"/>
<polygon points="518.6,1175.7 534.4,1175.7 534.4,1193.5 518.6,1193.5" fill="#e2edf3"/>
<polygon points="534.4,1193.5 603.5,1193.5 603.5,1209.3 619.2,1209.3 619.2,1244.8 603.5,1244.8 603.5,1260.6 585.7,1260.6 585.7,1244.8 552.1,1244.8 552.1,1227.1 534.4,1227.1" fill="#e2edf3"/>
<polygon points="331.0,767.0 534.4,767.0 534.4,784.8 518.6,784.8 518.6,802.5 413.9,802.5 413.9,818.3 398.1,818.3 398.1,836.1 346.8,836.1 346.8,802.5 331.0,802.5" fill="#fae7dc"/>
<polygon points="346.8,767.0 465.3,767.0 465.3,770.9 413.9,770.9 413.9,784.8 398.1,784.8 398.1,802.5 380.4,802.5 380.4,784.8 364.6,784.8 364.6,770.9 346.8,770.9" fill="#f7b799"/>
<polygon points="738.9,820.3 790.2,820.3 790.2,836.1 808.0,836.1 808.0,853.9 859.3,853.9 859.3,869.7 910.6,869.7 910.6,853.9 926.4,853.9 926.4,820.3 961.9,820.3 961.9,836.1 977.7,836.1 977.7,853.9 995.5,853.9 995.5,767.0 1131.7,767.0 1131.7,786.7 1147.5,786.7 1147.5,802.5 1234.4,802.5 1234.4,820.3 1250.2,820.3 1250.2,836.1 1267.9,836.1 1267.9,853.9 1285.7,853.9 1285.7,887.4 1319.2,887.4 1319.2,921.0 1335.0,921.0 1335.0,1023.7 1386.4,1023.7 1386.4,1039.5 1368.6,1039.5 1368.6,1057.3 1335.0,1057.3 1335.0,1073.1 1319.2,1073.1 1319.2,1057.3 1234.4,1057.3 1234.4,1073.1 1198.8,1073.1 1198.8,1090.8 1181.1,1090.8 1181.1,1124.4 1147.5,1124.4 1147.5,1142.2 1113.9,1142.2 1113.9,1124.4 892.8,1124.4 892.8,1108.6 875.1,1108.6 875.1,1090.8 859.3,1090.8 859.3,1075.0 808.0,1075.0 808.0,1090.8 790.2,1090.8 790.2,1075.0 772.4,1075.0 772.4,1023.7 754.7,1023.7 754.7,990.1 738.9,990.1 738.9,956.6 729.0,956.6 729.0,869.7 738.9,869.7" fill="#256baf"/>
<polygon points="808.0,938.8 841.5,938.8 841.5,954.6 808.0,954.6" fill="#559ec9"/>
<polygon points="772.4,990.1 790.2,990.1 790.2,1023.7 772.4,1023.7" fill="#559ec9"/>
<polygon points="825.7,1023.7 841.5,1023.7 841.5,1075.0 825.7,1075.0" fill="#559ec9"/>
<polygon points="908.6,1057.3 926.4,1057.3 926.4,1075.0 908.6,1075.0" fill="#559ec9"/>
<polygon points="892.8,1075.0 908.6,1075.0 908.6,1108.6 892.8,1108.6" fill="#559ec9"/>
<polygon points="926.4,1075.0 944.2,1075.0 944.2,1090.8 926.4,1090.8" fill="#559ec9"/>
<polygon points="1062.6,1108.6 1080.4,1108.6 1080.4,1124.4 1062.6,1124.4" fill="#559ec9"/>
<polygon points="1029.1,767.0 1096.2,767.0 1096.2,786.7 1113.9,786.7 1113.9,802.5 1131.7,802.5 1131.7,836.1 1147.5,836.1 1147.5,853.9 1198.8,853.9 1198.8,836.1 1216.6,836.1 1216.6,853.9 1234.4,853.9 1234.4,887.4 1250.2,887.4 1250.2,905.2 1267.9,905.2 1267.9,921.0 1285.7,921.0 1285.7,990.1 1267.9,990.1 1267.9,1023.7 1250.2,1023.7 1250.2,1039.5 1216.6,1039.5 1216.6,1023.7 1131.7,1023.7 1131.7,1057.3 1113.9,1057.3 1113.9,1039.5 1096.2,1039.5 1096.2,1073.1 1044.8,1073.1 1044.8,1090.8 1011.3,1090.8 1011.3,1073.1 995.5,1073.1 995.5,1057.3 977.7,1057.3 977.7,1039.5 961.9,1039.5 961.9,1023.7 944.2,1023.7 944.2,1005.9 926.4,1005.9 926.4,990.1 944.2,990.1 944.2,972.4 1011.3,972.4 1011.3,956.6 1029.1,956.6 1029.1,921.0 1044.8,921.0 1044.8,887.4 1029.1,887.4" fill="#053061"/>
<polygon points="729.0,1057.3 738.9,1057.3 738.9,1108.6 754.7,1108.6 754.7,1124.4 825.7,1124.4 825.7,1142.2 859.3,1142.2 859.3,1158.0 892.8,1158.0 892.8,1175.7 961.9,1175.7 961.9,1158.0 1044.8,1158.0 1044.8,1142.2 1062.6,1142.2 1062.6,1158.0 1080.4,1158.0 1080.4,1193.5 1096.2,1193.5 1096.2,1227.1 1080.4,1227.1 1080.4,1278.4 1062.6,1278.4 1062.6,1294.2 1046.8,1294.2 1046.8,1312.0 1113.9,1312.0 1113.9,1294.2 1131.7,1294.2 1131.7,1244.8 1113.9,1244.8 1113.9,1227.1 1131.7,1227.1 1131.7,1209.3 1147.5,1209.3 1147.5,1193.5 1165.3,1193.5 1165.3,1175.7 1198.8,1175.7 1198.8,1193.5 1216.6,1193.5 1216.6,1209.3 1234.4,1209.3 1234.4,1227.1 1250.2,1227.1 1250.2,1294.2 1216.6,1294.2 1216.6,1357.0 875.1,1357.0 875.1,1345.5 808.0,1345.5 808.0,1327.8 754.7,1327.8 754.7,1345.5 738.9,1345.5 738.9,1327.8 729.0,1327.8" fill="#a7d0e4"/>
<polygon points="790.2,1227.1 825.7,1227.1 825.7,1244.8 859.3,1244.8 859.3,1227.1 926.4,1227.1 926.4,1294.2 910.6,1294.2 910.6,1312.0 875.1,1312.0 875.1,1294.2 859.3,1294.2 859.3,1278.4 841.5,1278.4 841.5,1260.6 790.2,1260.6" fill="#559ec9"/>
<polygon points="1216.6,1108.6 1234.4,1108.6 1234.4,1092.8 1319.2,1092.8 1319.2,1108.6 1419.9,1108.6 1419.9,1124.4 1429.0,1124.4 1429.0,1209.3 1386.4,1209.3 1386.4,1227.1 1335.0,1227.1 1335.0,1209.3 1285.7,1209.3 1285.7,1193.5 1267.9,1193.5 1267.9,1177.7 1250.2,1177.7 1250.2,1142.2 1216.6,1142.2" fill="#a7d0e4"/>
<polygon points="1335.0,1142.2 1404.1,1142.2 1404.1,1193.5 1335.0,1193.5" fill="#e2edf3"/>
<polygon points="729.0,767.0 754.7,767.0 754.7,784.8 729.0,784.8" fill="#a7d0e4"/>
<polygon points="1147.5,767.0 1198.8,767.0 1198.8,784.8 1147.5,784.8" fill="#a7d0e4"/>
<polygon points="790.2,767.0 841.5,767.0 841.5,784.8 859.3,784.8 859.3,818.3 825.7,818.3 825.7,802.5 808.0,802.5 808.0,784.8 790.2,784.8" fill="#a7d0e4"/>
<polygon points="1250.2,767.0 1319.2,767.0 1319.2,802.5 1301.5,802.5 1301.5,818.3 1285.7,818.3 1285.7,802.5 1250.2,802.5" fill="#a7d0e4"/>
<polygon points="1301.5,1260.6 1368.6,1260.6 1368.6,1278.4 1386.4,1278.4 1386.4,1294.2 1352.8,1294.2 1352.8,1312.0 1335.0,1312.0 1335.0,1294.2 1301.5,1294.2" fill="#256baf"/>
<polygon points="1419.9,1244.8 1429.0,1244.8 1429.0,1278.4 1419.9,1278.4" fill="#256baf"/>
<polygon points="977.7,1312.0 995.5,1312.0 995.5,1327.8 977.7,1327.8" fill="#e2edf3"/>
<polygon points="1113.9,1327.8 1147.5,1327.8 1147.5,1357.0 1113.9,1357.0" fill="#e2edf3"/>
<polygon points="892.8,767.0 926.4,767.0 926.4,784.8 892.8,784.8" fill="#256baf"/>
<polygon points="1592.8,767.0 1744.8,767.0 1744.8,818.3 1727.1,818.3 1727.1,836.1 1693.5,836.1 1693.5,871.7 1711.3,871.7 1711.3,905.2 1693.5,905.2 1693.5,938.8 1644.2,938.8 1644.2,887.4 1660.0,887.4 1660.0,853.9 1677.7,853.9 1677.7,836.1 1660.0,836.1 1660.0,818.3 1644.2,818.3 1644.2,802.5 1608.6,802.5 1608.6,784.8 1592.8,784.8" fill="#256baf"/>
<polygon points="1813.9,767.0 1881.1,767.0 1881.1,784.8 1863.3,784.8 1863.3,802.5 1847.5,802.5 1847.5,784.8 1813.9,784.8" fill="#256baf"/>
<polygon points="2068.6,767.0 2129.0,767.0 2129.0,802.5 2086.4,802.5 2086.4,818.3 2068.6,818.3 2068.6,802.5 2052.8,802.5 2052.8,784.8 2068.6,784.8" fill="#256baf"/>
<polygon points="2086.4,887.4 2129.0,887.4 2129.0,905.2 2119.9,905.2 2119.9,921.0 2104.1,921.0 2104.1,905.2 2086.4,905.2" fill="#256baf"/>
<polygon points="1454.7,956.6 1488.2,956.6 1488.2,1005.9 1472.4,1005.9 1472.4,972.4 1454.7,972.4" fill="#256baf"/>
<polygon points="1644.2,1005.9 1660.0,1005.9 1660.0,1023.7 1644.2,1023.7" fill="#256baf"/>
<polygon points="1523.8,1057.3 1573.1,1057.3 1573.1,1090.8 1539.5,1090.8 1539.5,1108.6 1523.8,1108.6 1523.8,1090.8 1506.0,1090.8 1506.0,1075.0 1523.8,1075.0" fill="#256baf"/>
<polygon points="1539.5,1177.7 1557.3,1177.7 1557.3,1193.5 1573.1,1193.5 1573.1,1211.3 1590.9,1211.3 1590.9,1278.4 1608.6,1278.4 1608.6,1294.2 1590.9,1294.2 1590.9,1327.8 1573.1,1327.8 1573.1,1357.0 1488.2,1357.0 1488.2,1327.8 1454.7,1327.8 1454.7,1294.2 1438.9,1294.2 1438.9,1278.4 1429.0,1278.4 1429.0,1244.8 1506.0,1244.8 1506.0,1211.3 1523.8,1211.3 1523.8,1193.5 1539.5,1193.5" fill="#256baf"/>
<polygon points="1626.4,1294.2 1711.3,1294.2 1711.3,1312.0 1729.1,1312.0 1729.1,1278.4 1812.0,1278.4 1812.0,1294.2 1829.7,1294.2 1829.7,1312.0 1847.5,1312.0 1847.5,1327.8 1863.3,1327.8 1863.3,1357.0 1626.4,1357.0" fill="#256baf"/>
<polygon points="1934.4,784.8 1983.7,784.8 1983.7,836.1 2001.5,836.1 2001.5,905.2 1932.4,905.2 1932.4,887.4 1914.6,887.4 1914.6,871.7 1932.4,871.7" fill="#a7d0e4"/>
<polygon points="1914.6,1075.0 1950.2,1075.0 1950.2,1108.6 1932.4,1108.6 1932.4,1142.2 1950.2,1142.2 1950.2,1159.9 1967.9,1159.9 1967.9,1177.7 1983.7,1177.7 1983.7,1159.9 2017.3,1159.9 2017.3,1126.4 2035.0,1126.4 2035.0,1075.0 2052.8,1075.0 2052.8,1057.3 2068.6,1057.3 2068.6,1041.5 2086.4,1041.5 2086.4,1007.9 2104.1,1007.9 2104.1,990.1 2119.9,990.1 2119.9,972.4 2129.0,972.4 2129.0,1357.0 1914.6,1357.0 1914.6,1327.8 1930.4,1327.8 1930.4,1312.0 1948.2,1312.0 1948.2,1278.4 1930.4,1278.4 1930.4,1260.6 1898.8,1260.6 1898.8,1244.8 1780.4,1244.8 1780.4,1227.1 1762.6,1227.1 1762.6,1193.5 1778.4,1193.5 1778.4,1177.7 1796.2,1177.7 1796.2,1159.9 1813.9,1159.9 1813.9,1142.2 1881.1,1142.2 1881.1,1126.4 1898.8,1126.4 1898.8,1108.6 1914.6,1108.6" fill="#a7d0e4"/>
<polygon points="2068.6,1296.2 2129.0,1296.2 2129.0,1357.0 2068.6,1357.0" fill="#559ec9"/>
<polygon points="2086.4,1278.4 2104.1,1278.4 2104.1,1296.2 2086.4,1296.2" fill="#559ec9"/>
<polygon points="1813.9,1193.5 1829.7,1193.5 1829.7,1177.7 1847.5,1177.7 1847.5,1193.5 1863.3,1193.5 1863.3,1211.3 1847.5,1211.3 1847.5,1227.1 1813.9,1227.1" fill="#e2edf3"/>
<polygon points="2035.0,1193.5 2052.8,1193.5 2052.8,1177.7 2104.1,1177.7 2104.1,1159.9 2129.0,1159.9 2129.0,1227.1 2068.6,1227.1 2068.6,1244.8 2052.8,1244.8 2052.8,1227.1 2035.0,1227.1" fill="#e2edf3"/>
<polygon points="2119.9,1059.2 2129.0,1059.2 2129.0,1075.0 2119.9,1075.0" fill="#e2edf3"/>
<polygon points="1626.4,1142.2 1644.2,1142.2 1644.2,1126.4 1660.0,1126.4 1660.0,1142.2 1677.7,1142.2 1677.7,1211.3 1693.5,1211.3 1693.5,1244.8 1644.2,1244.8 1644.2,1227.1 1626.4,1227.1" fill="#a7d0e4"/>
<polygon points="1429.0,1126.4 1438.9,1126.4 1438.9,1142.2 1454.7,1142.2 1454.7,1159.9 1472.4,1159.9 1472.4,1177.7 1488.2,1177.7 1488.2,1193.5 1472.4,1193.5 1472.4,1211.3 1429.0,1211.3" fill="#a7d0e4"/>
<polygon points="2129.0,767.0 2273.1,767.0 2273.1,784.8 2257.3,784.8 2257.3,802.5 2273.1,802.5 2273.1,836.1 2257.3,836.1 2257.3,853.9 2239.5,853.9 2239.5,836.1 2206.0,836.1 2206.0,818.3 2136.9,818.3 2136.9,802.5 2129.0,802.5" fill="#256baf"/>
<polygon points="2326.4,767.0 2393.5,767.0 2393.5,836.1 2375.8,836.1 2375.8,869.7 2360.0,869.7 2360.0,836.1 2342.2,836.1 2342.2,802.5 2326.4,802.5" fill="#256baf"/>
<polygon points="2129.0,887.4 2136.9,887.4 2136.9,905.2 2129.0,905.2" fill="#256baf"/>
<polygon points="2206.0,887.4 2326.4,887.4 2326.4,905.2 2342.2,905.2 2342.2,921.0 2358.0,921.0 2358.0,988.2 2375.8,988.2 2375.8,1023.7 2391.5,1023.7 2405.4,1108.6 2375.8,1108.6 2375.8,1124.4 2358.0,1124.4 2358.0,1142.2 2324.4,1142.2 2324.4,1158.0 2306.7,1158.0 2306.7,1193.5 2290.9,1193.5 2290.9,1209.3 2255.3,1209.3 2255.3,1227.1 2239.5,1227.1 2239.5,1278.4 2221.8,1278.4 2221.8,1294.2 2206.0,1294.2 2206.0,1312.0 2188.2,1312.0 2188.2,1327.8 2170.5,1327.8 2170.5,1296.2 2136.9,1296.2 2136.9,1278.4 2129.0,1278.4 2129.0,972.4 2136.9,972.4 2136.9,938.8 2170.5,938.8 2170.5,921.0 2188.2,921.0 2188.2,905.2 2206.0,905.2" fill="#a7d0e4"/>
<polygon points="2375.8,1051.3 2391.5,1051.3 2391.5,1075.0 2375.8,1075.0" fill="#559ec9"/>
<polygon points="2154.7,972.4 2188.2,972.4 2188.2,956.6 2221.8,956.6 2221.8,938.8 2239.5,938.8 2239.5,921.0 2306.7,921.0 2306.7,1023.7 2290.9,1023.7 2290.9,1039.5 2273.1,1039.5 2273.1,1057.3 2255.3,1057.3 2255.3,1108.6 2239.5,1108.6 2239.5,1158.0 2221.8,1158.0 2221.8,1193.5 2206.0,1193.5 2206.0,1227.1 2129.0,1227.1 2129.0,1142.2 2154.7,1142.2 2154.7,1090.8 2136.9,1090.8 2136.9,1075.0 2129.0,1075.0 2129.0,1039.5 2154.7,1039.5" fill="#e2edf3"/>
<polygon points="2290.9,1108.6 2358.0,1108.6 2358.0,1142.2 2290.9,1142.2" fill="#e2edf3"/>
<polygon points="2206.0,1007.9 2239.5,1007.9 2239.5,1023.7 2206.0,1023.7" fill="#fae7dc"/>
<polygon points="534.4,1353.0 729.0,1353.0 729.0,1404.3 534.4,1404.3" fill="#a7d0e4"/>
<polygon points="569.2,1362.8 586.2,1362.8 586.2,1345.8 602.8,1345.8 602.8,1329.2 619.8,1329.2 619.8,1312.2 636.9,1312.2 636.9,1329.2 653.9,1329.2 653.9,1345.8 671.0,1345.8 671.0,1362.8 688.0,1362.8 688.0,1379.9 671.0,1379.9 671.0,1396.9 619.8,1396.9 619.8,1379.9 569.2,1379.9" fill="#559ec9"/>
<polygon points="688.0,1329.2 705.1,1329.2 705.1,1312.2 722.1,1312.2 722.1,1329.2 740.1,1329.2 740.1,1345.8 757.2,1345.8 757.2,1329.2 763.5,1329.2 763.5,1387.2 723.1,1387.2 723.1,1396.9 705.1,1396.9 705.1,1362.8 688.0,1362.8" fill="#559ec9"/>
<polygon points="892.8,1353.0 1216.6,1353.0 1216.6,1360.9 1250.2,1360.9 1250.2,1378.7 1267.9,1378.7 1267.9,1396.4 1319.2,1396.4 1319.2,1378.7 1335.0,1378.7 1335.0,1360.9 1429.0,1360.9 1429.0,1396.4 1386.4,1396.4 1386.4,1414.2 1368.6,1414.2 1368.6,1430.0 1352.8,1430.0 1352.8,1447.8 1335.0,1447.8 1335.0,1465.6 1319.2,1465.6 1319.2,1499.1 1335.0,1499.1 1335.0,1514.9 1352.8,1514.9 1352.8,1532.7 1368.6,1532.7 1368.6,1514.9 1386.4,1514.9 1386.4,1532.7 1404.1,1532.7 1404.1,1550.5 1421.9,1550.5 1421.9,1566.3 1429.0,1566.3 1429.0,1597.8 1386.4,1597.8 1386.4,1584.0 1267.9,1584.0 1267.9,1566.3 1250.2,1566.3 1250.2,1532.7 1234.4,1532.7 1234.4,1447.8 1250.2,1447.8 1250.2,1414.2 1216.6,1414.2 1216.6,1430.0 1200.8,1430.0 1200.8,1447.8 1183.0,1447.8 1183.0,1414.2 1098.1,1414.2 1098.1,1430.0 1080.4,1430.0 1080.4,1447.8 1062.6,1447.8 1062.6,1465.6 1011.3,1465.6 1011.3,1550.5 965.9,1589.9 875.1,1589.9 875.1,1447.8 892.8,1447.8" fill="#a7d0e4"/>
<polygon points="1046.8,1514.9 1062.6,1514.9 1062.6,1550.5 1046.8,1550.5" fill="#559ec9"/>
<polygon points="1113.9,1353.0 1147.5,1353.0 1147.5,1360.9 1113.9,1360.9" fill="#e2edf3"/>
<polygon points="1098.1,1360.9 1113.9,1360.9 1113.9,1378.7 1098.1,1378.7" fill="#e2edf3"/>
<polygon points="944.2,1447.8 960.0,1447.8 960.0,1481.3 944.2,1481.3" fill="#e2edf3"/>
<polygon points="960.0,1550.5 977.7,1550.5 977.7,1566.3 960.0,1566.3" fill="#e2edf3"/>
<polygon points="944.2,1499.1 960.0,1499.1 960.0,1532.7 926.4,1532.7 926.4,1514.9 944.2,1514.9" fill="#e2edf3"/>
<polygon points="1113.9,1584.0 1131.7,1584.0 1131.7,1599.8 1113.9,1599.8" fill="#256baf"/>
<polygon points="1200.8,1617.6 1234.4,1617.6 1234.4,1633.4 1200.8,1633.4" fill="#256baf"/>
<polygon points="1234.4,1668.9 1250.2,1668.9 1250.2,1702.5 1267.9,1702.5 1267.9,1718.3 1285.7,1718.3 1285.7,1734.1 1234.4,1734.1 1234.4,1751.9 1216.6,1751.9 1216.6,1684.7 1234.4,1684.7" fill="#256baf"/>
<polygon points="1488.2,1353.0 1557.3,1353.0 1557.3,1414.2 1573.1,1414.2 1573.1,1430.0 1590.9,1430.0 1590.9,1447.8 1644.2,1447.8 1644.2,1465.6 1693.5,1465.6 1693.5,1481.3 1660.0,1481.3 1660.0,1514.9 1626.4,1514.9 1626.4,1566.3 1539.5,1566.3 1539.5,1550.5 1488.2,1550.5 1488.2,1566.3 1472.4,1566.3 1472.4,1532.7 1488.2,1532.7" fill="#256baf"/>
<polygon points="1626.4,1353.0 1881.1,1353.0 1881.1,1378.7 1863.3,1378.7 1863.3,1396.4 1847.5,1396.4 1847.5,1414.2 1762.6,1414.2 1762.6,1430.0 1727.1,1430.0 1727.1,1447.8 1711.3,1447.8 1711.3,1465.6 1693.5,1465.6 1693.5,1447.8 1660.0,1447.8 1660.0,1430.0 1677.7,1430.0 1677.7,1414.2 1660.0,1414.2 1660.0,1378.7 1642.2,1378.7 1642.2,1362.9 1626.4,1362.9" fill="#256baf"/>
<polygon points="1727.1,1396.4 1744.8,1396.4 1744.8,1414.2 1727.1,1414.2" fill="#559ec9"/>
<polygon points="1914.6,1353.0 2119.9,1353.0 2119.9,1414.2 2104.1,1414.2 2104.1,1430.0 2050.8,1430.0 2050.8,1414.2 2035.0,1414.2 2035.0,1447.8 2001.5,1447.8 2001.5,1465.6 2017.3,1465.6 2017.3,1511.0 1883.0,1511.0 1883.0,1518.9 1744.8,1518.9 1744.8,1599.8 1642.2,1599.8 1642.2,1566.3 1660.0,1566.3 1660.0,1532.7 1677.7,1532.7 1677.7,1514.9 1693.5,1514.9 1693.5,1499.1 1729.1,1499.1 1729.1,1481.3 1744.8,1481.3 1744.8,1465.6 1780.4,1465.6 1780.4,1447.8 1813.9,1447.8 1813.9,1430.0 1898.8,1430.0 1898.8,1414.2 1914.6,1414.2" fill="#a7d0e4"/>
<polygon points="2102.2,1532.7 2129.0,1532.7 2129.0,1633.4 2102.2,1633.4" fill="#a7d0e4"/>
<polygon points="1429.0,1362.9 1436.9,1362.9 1436.9,1378.7 1429.0,1378.7" fill="#a7d0e4"/>
<polygon points="2119.9,1465.6 2129.0,1465.6 2129.0,1499.1 2119.9,1499.1" fill="#256baf"/>
<polygon points="1863.3,1465.6 1898.8,1465.6 1898.8,1447.8 1914.6,1447.8 1914.6,1465.6 1948.2,1465.6 1948.2,1514.9 1932.4,1514.9 1932.4,1499.1 1863.3,1499.1" fill="#e2edf3"/>
<polygon points="1705.4,1566.3 1727.1,1566.3 1727.1,1584.0 1705.4,1584.0" fill="#e2edf3"/>
<polygon points="1745.1,1567.1 1761.8,1567.1 1761.8,1583.2 1745.1,1583.2" fill="#a7d0e4"/>
<polygon points="2129.0,1428.0 2152.7,1428.0 2152.7,1465.6 2136.9,1465.6 2136.9,1499.1 2129.0,1499.1" fill="#256baf"/>
<polygon points="2129.0,1514.9 2204.0,1514.9 2204.0,1532.7 2221.8,1532.7 2221.8,1566.3 2188.2,1566.3 2188.2,1582.0 2170.5,1582.0 2170.5,1633.4 2152.7,1633.4 2152.7,1684.7 2136.9,1684.7 2136.9,1668.9 2129.0,1668.9" fill="#a7d0e4"/>
<polygon points="2188.2,1599.8 2255.3,1599.8 2255.3,1633.4 2273.1,1633.4 2273.1,1700.5 2288.9,1700.5 2288.9,1751.9 2273.1,1751.9 2273.1,1767.7 2221.8,1767.7 2221.8,1736.1 2188.2,1736.1 2188.2,1718.3 2170.5,1718.3 2170.5,1684.7 2188.2,1684.7" fill="#256baf"/>
</g>
<polygon points="235.6,178.9 248.7,192.0 265.6,205.1 277.8,214.5 284.3,212.6 290.0,214.5 293.7,224.8 305.9,225.7 304.0,238.8 297.5,240.7 293.7,237.9 290.0,232.3 284.3,231.4 260.0,220.1 253.4,214.5 245.0,205.1 235.6,196.7" fill="#97b6e1"/>
<polygon points="292.8,178.9 313.4,178.9 313.4,191.1 307.8,195.7 295.6,205.1 293.7,214.5 290.9,212.6" fill="#97b6e1"/>
<polygon points="1222.5,180.9 1232.4,180.9 1228.4,200.7 1238.3,208.6 1234.4,210.6 1222.5,196.7" fill="#97b6e1"/>
<polygon points="1242.3,204.6 1254.1,208.6 1265.9,206.6 1269.9,216.5 1277.8,236.2 1269.9,244.1 1265.9,240.2 1277.8,263.9 1297.5,281.7 1299.5,291.5 1289.6,297.4 1277.8,293.5 1273.8,279.7 1262.0,242.2 1258.0,232.3 1262.0,220.4 1252.1,212.5 1242.3,212.5" fill="#97b6e1"/>
<polygon points="1297.5,180.9 1337.0,180.9 1344.9,200.7 1364.6,236.2 1356.7,250.1 1360.7,273.8 1348.9,287.6 1339.0,281.7 1339.0,248.1 1348.9,240.2 1341.0,220.4 1329.1,216.5 1329.1,196.7 1317.3,192.8 1309.4,194.8 1299.5,188.8" fill="#97b6e1"/>
<polygon points="1539.5,504.8 1559.3,481.1 1590.9,449.5 1626.4,429.7 1650.1,417.9 1650.1,398.2 1665.9,390.3 1681.7,370.5 1705.4,362.6 1729.1,370.5 1760.6,366.6 1776.4,398.2 1788.3,410.0 1827.8,410.0 1823.8,425.8 1843.6,441.6 1847.5,453.4 1839.6,473.2 1855.4,473.2 1863.3,489.0 1847.5,492.9 1827.8,481.1 1796.2,481.1 1764.6,500.8 1729.1,492.9 1713.3,481.1 1693.5,481.1 1681.7,477.1 1658.0,489.0 1626.4,504.8 1598.8,504.8 1575.1,496.9 1543.5,512.7" fill="#97b6e1"/>
<polygon points="1744.0,767.0 1744.0,614.0 1745.0,565.0 1762.0,550.0 1779.0,548.0 1796.0,531.0 1848.0,531.0 1848.0,548.0 1831.0,548.0 1831.0,582.0 1796.0,582.0 1796.0,690.0 1808.0,714.0 1812.0,767.0" fill="#97b6e1"/>
<polygon points="1863.3,532.4 1898.8,524.5 1902.8,504.8 1942.3,502.8 1981.7,504.8 2017.3,504.8 2037.0,520.6 2048.9,532.4 2064.6,548.2 2072.5,564.0 2060.7,583.8 2029.1,579.8 2013.3,571.9 1997.5,556.1 1989.6,552.2 2005.4,571.9 2009.4,587.7 1997.5,611.4 2001.5,650.9 1989.6,674.6 1973.8,682.5 1965.9,658.8 1950.2,635.1 1934.4,631.1 1918.6,650.9 1918.6,611.4 1914.6,571.9 1898.8,556.1 1867.2,544.3" fill="#97b6e1"/>
<polygon points="1954.1,767.0 1981.7,737.8 2013.3,714.1 2041.0,702.2 2068.6,702.2 2100.2,682.5 2129.0,670.6 2129.0,702.2 2100.2,722.0 2076.5,737.8 2052.8,745.7 2041.0,767.0" fill="#97b6e1"/>
<polygon points="2092.3,646.9 2108.1,615.4 2129.0,607.5 2129.0,658.8 2116.0,654.8 2100.2,654.8" fill="#97b6e1"/>
<polygon points="1658.0,287.6 1677.7,283.6 1689.6,299.4 1685.6,327.1 1673.8,335.0 1658.0,327.1 1650.1,311.3" fill="#97b6e1"/>
<polygon points="1474.4,234.3 1484.3,232.3 1488.2,240.2 1482.3,246.1 1474.4,240.2" fill="#97b6e1"/>
<polygon points="1545.5,238.2 1553.4,240.2 1575.1,236.2 1588.9,236.2 1579.0,244.1 1557.3,250.1" fill="#97b6e1"/>
<polygon points="2009.4,319.2 2021.2,319.2 2037.0,327.1 2048.9,335.0 2037.0,333.0 2017.3,329.0" fill="#97b6e1"/>
<polygon points="2029.1,479.1 2044.9,473.2 2064.6,471.2 2066.6,477.1 2052.8,481.1" fill="#97b6e1"/>
<polygon points="2084.4,579.8 2096.2,568.0 2102.2,583.8 2092.3,591.7" fill="#97b6e1"/>
<polygon points="1588.9,370.5 1604.7,374.5 1598.8,378.4" fill="#97b6e1"/>
<polygon points="1867.2,378.4 1881.1,370.5 1875.1,380.4" fill="#97b6e1"/>
<polygon points="2076.5,382.4 2086.4,384.3 2080.4,388.3" fill="#97b6e1"/>
<polygon points="1422.1,334.3 1431.7,331.1 1433.9,327.8 1428.5,315.0 1432.8,313.9 1437.1,326.8 1442.4,331.1 1441.4,337.5 1448.8,342.8 1453.1,351.4 1451.0,360.0 1445.6,353.5 1439.2,347.1 1428.5,348.2 1433.9,355.7 1441.4,357.8 1451.0,364.3 1439.2,370.7 1429.6,377.1 1423.1,369.6 1422.1,355.7" fill="#97b6e1"/>
<polygon points="1472.4,382.5 1482.0,377.1 1487.4,385.7 1504.5,391.0 1498.1,394.2 1482.0,396.4 1479.9,392.1 1475.6,384.6" fill="#97b6e1"/>
<polygon points="2129.0,607.5 2168.5,587.7 2208.0,571.9 2231.7,564.0 2243.5,571.9 2239.5,595.6 2223.8,611.4 2215.9,623.3 2188.2,631.1 2152.7,635.1 2129.0,639.0" fill="#97b6e1"/>
<polygon points="2318.5,259.9 2330.4,252.0 2342.2,258.0 2338.2,267.8 2324.4,267.8" fill="#97b6e1"/>
<polygon points="2202.0,303.4 2211.9,287.6 2227.7,277.7 2235.6,283.6 2251.4,295.5 2235.6,295.5 2219.8,299.4 2213.9,311.3" fill="#97b6e1"/>
<polygon points="2138.9,376.4 2152.7,378.4 2144.8,386.3" fill="#97b6e1"/>
<polygon points="2160.6,370.5 2168.5,362.6 2172.4,382.4 2184.3,396.2 2172.4,394.2 2162.6,382.4" fill="#97b6e1"/>
<polygon points="2202.0,408.0 2209.9,396.2 2213.9,410.0" fill="#97b6e1"/>
<polygon points="2223.8,196.7 2231.7,184.9 2235.6,192.8" fill="#97b6e1"/>
<polygon points="2358.0,192.8 2373.8,180.9 2397.5,182.9 2401.4,188.8 2373.8,188.8 2361.9,198.7" fill="#97b6e1"/>
<polygon points="2616.7,323.6 2618.7,329.6 2615.7,337.6 2614.3,336.6 2616.7,329.6" fill="#97b6e1"/>
<polygon points="2691.1,413.9 2695.1,416.0 2698.1,411.9 2697.1,418.0 2692.1,419.0" fill="#97b6e1"/>
<polygon points="1746.8,767.0 1796.2,767.0 1792.2,782.8 1776.4,800.6 1764.6,802.5 1756.7,790.7" fill="#97b6e1"/>
<polygon points="1950.2,767.0 2001.5,767.0 1997.5,782.8 1981.7,786.7 1965.9,784.8 1954.1,778.8" fill="#97b6e1"/>
<polygon points="1265.9,1838.7 1277.8,1828.9 1281.7,1832.8 1271.9,1866.4 1267.9,1890.1 1260.0,1892.1 1265.9,1862.4" fill="#97b6e1"/>
<circle cx="310.6" cy="206.0" r="3.7" fill="#000"/>
<circle cx="314.3" cy="221.0" r="3.3" fill="#000"/>
<circle cx="301.2" cy="210.7" r="2.8" fill="#000"/>
<circle cx="312.5" cy="235.1" r="3.3" fill="#000"/>
<circle cx="317.2" cy="248.2" r="3.3" fill="#000"/>
<circle cx="303.1" cy="270.7" r="3.3" fill="#000"/>
<circle cx="284.3" cy="287.6" r="3.3" fill="#000"/>
<circle cx="289.0" cy="294.1" r="2.8" fill="#000"/>
<rect x="1660.1" y="412.3" width="16.9" height="16.1" fill="#053061"/>
<rect x="1693.9" y="446.0" width="16.9" height="16.9" fill="#256baf"/>
<rect x="1677.0" y="462.9" width="16.9" height="16.9" fill="#256baf"/>
<rect x="1591.9" y="479.8" width="16.9" height="16.9" fill="#559ec9"/>
<rect x="1795.9" y="479.8" width="33.7" height="16.9" fill="#559ec9"/>
<rect x="1557.3" y="496.6" width="17.7" height="16.9" fill="#559ec9"/>
<rect x="1591.9" y="446.0" width="16.9" height="16.9" fill="#559ec9"/>
<rect x="1608.7" y="429.2" width="17.7" height="16.9" fill="#559ec9"/>
<rect x="1403.9" y="326.8" width="17.1" height="17.1" fill="#559ec9"/>
<rect x="1403.9" y="343.9" width="17.1" height="50.3" fill="#a7d0e4"/>
<rect x="1421.0" y="378.2" width="17.1" height="16.1" fill="#559ec9"/>
<rect x="1471.9" y="394.2" width="50.9" height="8.6" fill="#559ec9"/>
<rect x="1522.7" y="411.4" width="35.3" height="8.6" fill="#559ec9"/>
<polygon points="1903.1,520.8 1927.7,516.2 1947.8,510.0 1967.8,506.9 1980.1,514.6 1983.2,534.7 1970.8,533.9 1950.8,530.0 1927.7,526.2 1906.2,527.0" fill="#efefdb"/>
<ellipse cx="143.5" cy="1097.9" rx="7.9" ry="3.6" fill="#000"/>
<ellipse cx="165.2" cy="1101.9" rx="8.7" ry="3.2" fill="#000"/>
<ellipse cx="162.1" cy="1150.1" rx="3.9" ry="3.6" fill="#000"/>
<ellipse cx="217.7" cy="1158.0" rx="4.7" ry="6.3" fill="#000"/>
<ellipse cx="208.6" cy="1185.6" rx="3.6" ry="7.1" fill="#000"/>
<rect x="2136.9" y="1769.6" width="15.8" height="15.8" fill="#a7d0e4"/>
<rect x="2170.5" y="1769.6" width="17.8" height="15.8" fill="#a7d0e4"/>
<rect x="2204.0" y="1769.6" width="17.8" height="15.8" fill="#256baf"/>
<polyline points="1539.5,508.7 1563.2,485.0 1594.8,453.4 1626.4,433.7 1650.1,421.8" fill="none" stroke="#000" stroke-width="4.17" stroke-dasharray="4.17 6.875"/>
<polyline points="1594.8,508.7 1626.4,496.9 1661.9,489.0 1681.7,477.1 1705.4,477.1 1729.1,492.9 1756.7,496.9 1776.4,492.9 1796.2,485.0 1823.8,481.1 1843.6,489.0" fill="none" stroke="#000" stroke-width="4.17" stroke-dasharray="4.17 6.875"/>
<polyline points="1757.8,547.8 1779.3,539.2 1796.4,532.8 1820.0,524.3 1850.0,524.3 1865.0,528.5" fill="none" stroke="#000" stroke-width="4.17" stroke-dasharray="4.17 6.875"/>
<polyline points="1865.0,537.1 1845.7,547.8 1822.1,571.4 1800.7,582.1 1796.4,592.8 1792.1,657.1 1794.3,690.0 1808.0,714.0 1812.0,766.8" fill="none" stroke="#000" stroke-width="4.17" stroke-dasharray="4.17 6.875"/>
<polyline points="1762.1,571.4 1746.1,603.5 1743.9,614.2 1743.9,720.1 1741.0,766.8" fill="none" stroke="#000" stroke-width="4.17" stroke-dasharray="4.17 6.875"/>
<polyline points="1839.6,544.3 1902.8,556.1 1918.6,575.9 1922.5,595.6 1914.6,627.2 1906.7,650.9 1914.6,654.8 1930.4,639.0 1950.2,635.1 1965.9,662.7 1969.9,682.5" fill="none" stroke="#000" stroke-width="4.17" stroke-dasharray="4.17 6.875"/>
<polyline points="1650.1,398.2 1665.9,390.3 1681.7,370.5 1705.4,362.6 1729.1,370.5 1760.6,366.6 1776.4,398.2 1788.3,410.0 1827.8,410.0 1823.8,425.8 1843.6,441.6 1847.5,453.4 1855.4,473.2 1863.3,489.0" fill="none" stroke="#000" stroke-width="4.17" stroke-dasharray="4.17 6.875"/>
<polyline points="1898.8,504.8 1942.3,504.8 1981.7,504.8 2017.3,504.8 2037.0,520.6 2048.9,532.4 2064.6,548.2 2072.5,564.0 2060.7,583.8 2029.1,579.8 2013.3,571.9 1997.5,556.1" fill="none" stroke="#000" stroke-width="4.17" stroke-dasharray="4.17 6.875"/>
<polyline points="1997.5,556.1 2009.4,587.7 1997.5,611.4 2001.5,650.9 1989.6,674.6 1977.8,682.5" fill="none" stroke="#000" stroke-width="4.17" stroke-dasharray="4.17 6.875"/>
<polyline points="1954.1,767.0 1981.7,737.8 2013.3,714.1 2041.0,702.2 2068.6,702.2 2100.2,682.5 2129.0,670.6" fill="none" stroke="#000" stroke-width="4.17" stroke-dasharray="4.17 6.875"/>
<polyline points="2092.3,646.9 2108.1,615.4 2129.0,607.5" fill="none" stroke="#000" stroke-width="4.17" stroke-dasharray="4.17 6.875"/>
<polyline points="1903.1,520.8 1927.7,516.2 1947.8,510.0 1967.8,506.9 1980.1,514.6 1983.2,534.7 1970.8,533.9 1950.8,530.0 1927.7,526.2 1906.2,527.0 1903.1,520.8" fill="none" stroke="#000" stroke-width="4.17" stroke-dasharray="4.17 6.875"/>
<polyline points="321.2,190.8 538.3,258.0 656.7,287.6 729.0,303.4" fill="none" stroke="#000" stroke-width="4.17" stroke-dasharray="4.17 6.875"/>
<polyline points="321.2,190.8 538.3,258.0 656.7,287.6 729.0,303.4" fill="none" stroke="#000" stroke-width="4.17" stroke-dasharray="4.17 6.875" stroke-dashoffset="2.8"/>
<polyline points="216.5,329.0 234.3,333.0 244.2,342.9 254.0,346.8 256.0,380.4 277.7,392.2 297.5,392.2 319.2,404.1 344.8,408.0 404.1,410.0 413.9,412.0 498.8,435.7" fill="none" stroke="#000" stroke-width="4.17" stroke-dasharray="4.17 6.875"/>
<polyline points="216.5,329.0 234.3,333.0 244.2,342.9 254.0,346.8 256.0,380.4 277.7,392.2 297.5,392.2 319.2,404.1 344.8,408.0 404.1,410.0 413.9,412.0 498.8,435.7" fill="none" stroke="#000" stroke-width="4.17" stroke-dasharray="4.17 6.875" stroke-dashoffset="2.8"/>
<polyline points="540.3,259.9 498.8,413.9 498.8,435.7" fill="none" stroke="#000" stroke-width="4.17" stroke-dasharray="4.17 6.875"/>
<polyline points="540.3,259.9 498.8,413.9 498.8,435.7" fill="none" stroke="#000" stroke-width="4.17" stroke-dasharray="4.17 6.875" stroke-dashoffset="2.8"/>
<polyline points="498.8,435.7 510.7,461.3 487.0,496.9 461.3,522.5 467.2,540.3 457.4,568.0 427.8,668.7" fill="none" stroke="#000" stroke-width="4.17" stroke-dasharray="4.17 6.875"/>
<polyline points="498.8,435.7 510.7,461.3 487.0,496.9 461.3,522.5 467.2,540.3 457.4,568.0 427.8,668.7" fill="none" stroke="#000" stroke-width="4.17" stroke-dasharray="4.17 6.875" stroke-dashoffset="2.8"/>
<polyline points="117.8,568.0 297.5,629.2 427.8,668.7 558.0,702.2 692.3,729.9" fill="none" stroke="#000" stroke-width="4.17" stroke-dasharray="4.17 6.875"/>
<polyline points="117.8,568.0 297.5,629.2 427.8,668.7 558.0,702.2 692.3,729.9" fill="none" stroke="#000" stroke-width="4.17" stroke-dasharray="4.17 6.875" stroke-dashoffset="2.8"/>
<polyline points="579.8,269.8 565.9,327.1 571.9,358.7 589.6,390.3 597.5,413.9 613.3,423.8 601.5,449.5 599.5,469.2 589.6,483.1 595.6,492.9 611.3,485.0 621.2,492.9 629.1,524.5 637.0,546.2 642.9,569.9 660.7,568.0 704.1,573.9 712.0,566.0 723.9,579.8" fill="none" stroke="#000" stroke-width="4.17" stroke-dasharray="4.17 6.875"/>
<polyline points="579.8,269.8 565.9,327.1 571.9,358.7 589.6,390.3 597.5,413.9 613.3,423.8 601.5,449.5 599.5,469.2 589.6,483.1 595.6,492.9 611.3,485.0 621.2,492.9 629.1,524.5 637.0,546.2 642.9,569.9 660.7,568.0 704.1,573.9 712.0,566.0 723.9,579.8" fill="none" stroke="#000" stroke-width="4.17" stroke-dasharray="4.17 6.875" stroke-dashoffset="2.8"/>
<polyline points="729.0,552.2 719.9,579.8 692.3,729.9 686.4,767.0" fill="none" stroke="#000" stroke-width="4.17" stroke-dasharray="4.17 6.875"/>
<polyline points="729.0,552.2 719.9,579.8 692.3,729.9 686.4,767.0" fill="none" stroke="#000" stroke-width="4.17" stroke-dasharray="4.17 6.875" stroke-dashoffset="2.8"/>
<polyline points="297.5,629.2 256.0,767.0" fill="none" stroke="#000" stroke-width="4.17" stroke-dasharray="4.17 6.875"/>
<polyline points="297.5,629.2 256.0,767.0" fill="none" stroke="#000" stroke-width="4.17" stroke-dasharray="4.17 6.875" stroke-dashoffset="2.8"/>
<polyline points="558.0,702.2 544.2,767.0" fill="none" stroke="#000" stroke-width="4.17" stroke-dasharray="4.17 6.875"/>
<polyline points="558.0,702.2 544.2,767.0" fill="none" stroke="#000" stroke-width="4.17" stroke-dasharray="4.17 6.875" stroke-dashoffset="2.8"/>
<polyline points="237.5,192.0 245.0,199.5 254.4,206.0 261.9,213.5 271.2,220.1 281.5,222.9 292.8,221.0 303.1,216.4 305.9,205.1 303.1,186.4 305.0,179.8" fill="none" stroke="#000" stroke-width="4.17" stroke-dasharray="4.17 6.875"/>
<polyline points="237.5,192.0 245.0,199.5 254.4,206.0 261.9,213.5 271.2,220.1 281.5,222.9 292.8,221.0 303.1,216.4 305.9,205.1 303.1,186.4 305.0,179.8" fill="none" stroke="#000" stroke-width="4.17" stroke-dasharray="4.17 6.875" stroke-dashoffset="2.8"/>
<polyline points="729.0,303.4 817.8,321.1 1052.7,358.7 1163.3,365.8 1329.1,373.3 1408.1,374.5 1408.1,350.8" fill="none" stroke="#000" stroke-width="4.17" stroke-dasharray="4.17 6.875"/>
<polyline points="729.0,303.4 817.8,321.1 1052.7,358.7 1163.3,365.8 1329.1,373.3 1408.1,374.5 1408.1,350.8" fill="none" stroke="#000" stroke-width="4.17" stroke-dasharray="4.17 6.875" stroke-dashoffset="2.8"/>
<polyline points="843.5,177.0 817.8,321.1" fill="none" stroke="#000" stroke-width="4.17" stroke-dasharray="4.17 6.875"/>
<polyline points="843.5,177.0 817.8,321.1" fill="none" stroke="#000" stroke-width="4.17" stroke-dasharray="4.17 6.875" stroke-dashoffset="2.8"/>
<polyline points="1163.3,177.0 1160.5,362.6" fill="none" stroke="#000" stroke-width="4.17" stroke-dasharray="4.17 6.875"/>
<polyline points="1163.3,177.0 1160.5,362.6" fill="none" stroke="#000" stroke-width="4.17" stroke-dasharray="4.17 6.875" stroke-dashoffset="2.8"/>
<polyline points="1408.1,177.0 1408.1,350.8" fill="none" stroke="#000" stroke-width="4.17" stroke-dasharray="4.17 6.875"/>
<polyline points="1408.1,177.0 1408.1,350.8" fill="none" stroke="#000" stroke-width="4.17" stroke-dasharray="4.17 6.875" stroke-dashoffset="2.8"/>
<polyline points="1052.7,358.7 1035.0,538.3 1027.1,597.6 1013.3,718.0 1009.3,767.0" fill="none" stroke="#000" stroke-width="4.17" stroke-dasharray="4.17 6.875"/>
<polyline points="1052.7,358.7 1035.0,538.3 1027.1,597.6 1013.3,718.0 1009.3,767.0" fill="none" stroke="#000" stroke-width="4.17" stroke-dasharray="4.17 6.875" stroke-dashoffset="2.8"/>
<polyline points="729.0,552.2 1027.1,597.6" fill="none" stroke="#000" stroke-width="4.17" stroke-dasharray="4.17 6.875"/>
<polyline points="729.0,552.2 1027.1,597.6" fill="none" stroke="#000" stroke-width="4.17" stroke-dasharray="4.17 6.875" stroke-dashoffset="2.8"/>
<polyline points="1035.0,538.3 1348.9,558.1" fill="none" stroke="#000" stroke-width="4.17" stroke-dasharray="4.17 6.875"/>
<polyline points="1035.0,538.3 1348.9,558.1" fill="none" stroke="#000" stroke-width="4.17" stroke-dasharray="4.17 6.875" stroke-dashoffset="2.8"/>
<polyline points="1329.1,373.3 1329.1,386.3 1339.0,453.4 1341.0,512.7 1350.8,544.3 1348.9,566.0 1339.0,577.8 1341.0,587.7 1352.8,597.6 1352.8,708.2" fill="none" stroke="#000" stroke-width="4.17" stroke-dasharray="4.17 6.875"/>
<polyline points="1329.1,373.3 1329.1,386.3 1339.0,453.4 1341.0,512.7 1350.8,544.3 1348.9,566.0 1339.0,577.8 1341.0,587.7 1352.8,597.6 1352.8,708.2" fill="none" stroke="#000" stroke-width="4.17" stroke-dasharray="4.17 6.875" stroke-dashoffset="2.8"/>
<polyline points="1013.3,718.0 1262.0,735.8 1285.7,747.6 1317.3,745.7 1344.9,761.5" fill="none" stroke="#000" stroke-width="4.17" stroke-dasharray="4.17 6.875"/>
<polyline points="1013.3,718.0 1262.0,735.8 1285.7,747.6 1317.3,745.7 1344.9,761.5" fill="none" stroke="#000" stroke-width="4.17" stroke-dasharray="4.17 6.875" stroke-dashoffset="2.8"/>
<polyline points="1352.8,708.2 1346.9,714.1 1352.8,733.8 1344.9,757.5 1350.8,767.0" fill="none" stroke="#000" stroke-width="4.17" stroke-dasharray="4.17 6.875"/>
<polyline points="1352.8,708.2 1346.9,714.1 1352.8,733.8 1344.9,757.5 1350.8,767.0" fill="none" stroke="#000" stroke-width="4.17" stroke-dasharray="4.17 6.875" stroke-dashoffset="2.8"/>
<polyline points="1352.8,708.2 1429.0,708.2" fill="none" stroke="#000" stroke-width="4.17" stroke-dasharray="4.17 6.875"/>
<polyline points="1352.8,708.2 1429.0,708.2" fill="none" stroke="#000" stroke-width="4.17" stroke-dasharray="4.17 6.875" stroke-dashoffset="2.8"/>
<polyline points="1408.1,350.8 1417.9,352.7 1423.9,370.5 1429.0,386.3" fill="none" stroke="#000" stroke-width="4.17" stroke-dasharray="4.17 6.875"/>
<polyline points="1408.1,350.8 1417.9,352.7 1423.9,370.5 1429.0,386.3" fill="none" stroke="#000" stroke-width="4.17" stroke-dasharray="4.17 6.875" stroke-dashoffset="2.8"/>
<polyline points="1429.0,390.3 1468.5,400.1 1488.2,394.2 1511.9,402.1 1523.8,413.9 1543.5,417.9 1559.3,425.8 1579.0,417.9 1614.6,421.8 1630.4,425.8 1648.1,419.9" fill="none" stroke="#000" stroke-width="4.17" stroke-dasharray="4.17 6.875"/>
<polyline points="1429.0,390.3 1468.5,400.1 1488.2,394.2 1511.9,402.1 1523.8,413.9 1543.5,417.9 1559.3,425.8 1579.0,417.9 1614.6,421.8 1630.4,425.8 1648.1,419.9" fill="none" stroke="#000" stroke-width="4.17" stroke-dasharray="4.17 6.875" stroke-dashoffset="2.8"/>
<polyline points="1685.6,404.1 1839.6,471.2" fill="none" stroke="#000" stroke-width="4.17" stroke-dasharray="4.17 6.875"/>
<polyline points="1685.6,404.1 1839.6,471.2" fill="none" stroke="#000" stroke-width="4.17" stroke-dasharray="4.17 6.875" stroke-dashoffset="2.8"/>
<polyline points="1898.8,524.5 1942.3,548.2 1954.1,571.9 1973.8,611.4 1981.7,650.9 1977.8,682.5 1975.8,722.0 1960.0,729.9 1952.1,749.6 1950.2,767.0" fill="none" stroke="#000" stroke-width="4.17" stroke-dasharray="4.17 6.875"/>
<polyline points="1898.8,524.5 1942.3,548.2 1954.1,571.9 1973.8,611.4 1981.7,650.9 1977.8,682.5 1975.8,722.0 1960.0,729.9 1952.1,749.6 1950.2,767.0" fill="none" stroke="#000" stroke-width="4.17" stroke-dasharray="4.17 6.875" stroke-dashoffset="2.8"/>
<polyline points="1973.8,753.6 2037.0,722.0 2100.2,686.4 2129.0,674.6" fill="none" stroke="#000" stroke-width="4.17" stroke-dasharray="4.17 6.875"/>
<polyline points="1973.8,753.6 2037.0,722.0 2100.2,686.4 2129.0,674.6" fill="none" stroke="#000" stroke-width="4.17" stroke-dasharray="4.17 6.875" stroke-dashoffset="2.8"/>
<polyline points="2009.4,200.7 2029.1,295.5 2048.9,398.2 2060.7,421.8 2092.3,457.4 2129.0,461.3" fill="none" stroke="#000" stroke-width="4.17" stroke-dasharray="4.17 6.875"/>
<polyline points="2009.4,200.7 2029.1,295.5 2048.9,398.2 2060.7,421.8 2092.3,457.4 2129.0,461.3" fill="none" stroke="#000" stroke-width="4.17" stroke-dasharray="4.17 6.875" stroke-dashoffset="2.8"/>
<polyline points="1531.7,512.7 1527.7,548.2 1508.0,571.9 1513.9,591.7 1511.9,623.3 1519.8,639.0 1551.4,658.8 1575.1,674.6 1583.0,702.2 1590.9,745.7 1610.6,761.5 1614.6,767.0" fill="none" stroke="#000" stroke-width="4.17" stroke-dasharray="4.17 6.875"/>
<polyline points="1531.7,512.7 1527.7,548.2 1508.0,571.9 1513.9,591.7 1511.9,623.3 1519.8,639.0 1551.4,658.8 1575.1,674.6 1583.0,702.2 1590.9,745.7 1610.6,761.5 1614.6,767.0" fill="none" stroke="#000" stroke-width="4.17" stroke-dasharray="4.17 6.875" stroke-dashoffset="2.8"/>
<polyline points="1429.0,708.2 1579.0,702.2" fill="none" stroke="#000" stroke-width="4.17" stroke-dasharray="4.17 6.875"/>
<polyline points="1429.0,708.2 1579.0,702.2" fill="none" stroke="#000" stroke-width="4.17" stroke-dasharray="4.17 6.875" stroke-dashoffset="2.8"/>
<polyline points="1614.6,767.0 1744.8,755.5" fill="none" stroke="#000" stroke-width="4.17" stroke-dasharray="4.17 6.875"/>
<polyline points="1614.6,767.0 1744.8,755.5" fill="none" stroke="#000" stroke-width="4.17" stroke-dasharray="4.17 6.875" stroke-dashoffset="2.8"/>
<polyline points="1586.9,489.0 1594.8,508.7 1618.5,528.5 1661.9,540.3 1705.4,544.3 1721.2,556.1 1725.1,575.9 1737.0,595.6 1729.1,611.4 1721.2,627.2" fill="none" stroke="#000" stroke-width="4.17" stroke-dasharray="4.17 6.875"/>
<polyline points="1586.9,489.0 1594.8,508.7 1618.5,528.5 1661.9,540.3 1705.4,544.3 1721.2,556.1 1725.1,575.9 1737.0,595.6 1729.1,611.4 1721.2,627.2" fill="none" stroke="#000" stroke-width="4.17" stroke-dasharray="4.17 6.875" stroke-dashoffset="2.8"/>
<polyline points="2413.3,465.3 2421.2,445.5 2440.9,429.7 2448.8,402.1 2444.8,350.8 2444.8,327.1 2456.7,295.5" fill="none" stroke="#000" stroke-width="4.17" stroke-dasharray="4.17 6.875"/>
<polyline points="2413.3,465.3 2421.2,445.5 2440.9,429.7 2448.8,402.1 2444.8,350.8 2444.8,327.1 2456.7,295.5" fill="none" stroke="#000" stroke-width="4.17" stroke-dasharray="4.17 6.875" stroke-dashoffset="2.8"/>
<polyline points="2129.0,461.3 2152.7,465.3 2172.4,477.1 2180.3,473.2 2196.1,489.0 2223.8,489.0 2247.4,477.1 2271.1,463.3 2286.9,463.3 2288.9,481.1" fill="none" stroke="#000" stroke-width="4.17" stroke-dasharray="4.17 6.875"/>
<polyline points="2129.0,461.3 2152.7,465.3 2172.4,477.1 2180.3,473.2 2196.1,489.0 2223.8,489.0 2247.4,477.1 2271.1,463.3 2286.9,463.3 2288.9,481.1" fill="none" stroke="#000" stroke-width="4.17" stroke-dasharray="4.17 6.875" stroke-dashoffset="2.8"/>
<polyline points="2283.0,500.8 2306.7,492.9 2342.2,485.0 2377.7,473.2 2413.3,465.3" fill="none" stroke="#000" stroke-width="4.17" stroke-dasharray="4.17 6.875"/>
<polyline points="2283.0,500.8 2306.7,492.9 2342.2,485.0 2377.7,473.2 2413.3,465.3" fill="none" stroke="#000" stroke-width="4.17" stroke-dasharray="4.17 6.875" stroke-dashoffset="2.8"/>
<polyline points="2413.3,465.3 2421.2,489.0 2405.4,508.7 2405.4,548.2 2409.3,603.5" fill="none" stroke="#000" stroke-width="4.17" stroke-dasharray="4.17 6.875"/>
<polyline points="2413.3,465.3 2421.2,489.0 2405.4,508.7 2405.4,548.2 2409.3,603.5" fill="none" stroke="#000" stroke-width="4.17" stroke-dasharray="4.17 6.875" stroke-dashoffset="2.8"/>
<polyline points="2429.1,441.6 2440.9,481.1 2456.7,520.6 2476.4,556.1" fill="none" stroke="#000" stroke-width="4.17" stroke-dasharray="4.17 6.875"/>
<polyline points="2429.1,441.6 2440.9,481.1 2456.7,520.6 2476.4,556.1" fill="none" stroke="#000" stroke-width="4.17" stroke-dasharray="4.17 6.875" stroke-dashoffset="2.8"/>
<polyline points="2342.2,492.9 2350.1,524.5 2361.9,568.0 2373.8,583.8 2381.7,611.4" fill="none" stroke="#000" stroke-width="4.17" stroke-dasharray="4.17 6.875"/>
<polyline points="2342.2,492.9 2350.1,524.5 2361.9,568.0 2373.8,583.8 2381.7,611.4" fill="none" stroke="#000" stroke-width="4.17" stroke-dasharray="4.17 6.875" stroke-dashoffset="2.8"/>
<polyline points="2381.7,613.4 2464.6,591.7 2476.4,579.8" fill="none" stroke="#000" stroke-width="4.17" stroke-dasharray="4.17 6.875"/>
<polyline points="2381.7,613.4 2464.6,591.7 2476.4,579.8" fill="none" stroke="#000" stroke-width="4.17" stroke-dasharray="4.17 6.875" stroke-dashoffset="2.8"/>
<polyline points="2381.7,658.8 2476.4,635.1" fill="none" stroke="#000" stroke-width="4.17" stroke-dasharray="4.17 6.875"/>
<polyline points="2381.7,658.8 2476.4,635.1" fill="none" stroke="#000" stroke-width="4.17" stroke-dasharray="4.17 6.875" stroke-dashoffset="2.8"/>
<polyline points="2456.7,639.0 2468.5,674.6" fill="none" stroke="#000" stroke-width="4.17" stroke-dasharray="4.17 6.875"/>
<polyline points="2456.7,639.0 2468.5,674.6" fill="none" stroke="#000" stroke-width="4.17" stroke-dasharray="4.17 6.875" stroke-dashoffset="2.8"/>
<polyline points="2476.4,637.1 2484.3,658.8" fill="none" stroke="#000" stroke-width="4.17" stroke-dasharray="4.17 6.875"/>
<polyline points="2476.4,637.1 2484.3,658.8" fill="none" stroke="#000" stroke-width="4.17" stroke-dasharray="4.17 6.875" stroke-dashoffset="2.8"/>
<polyline points="2381.7,613.4 2381.7,658.8 2389.6,702.2 2393.5,710.1" fill="none" stroke="#000" stroke-width="4.17" stroke-dasharray="4.17 6.875"/>
<polyline points="2381.7,613.4 2381.7,658.8 2389.6,702.2 2393.5,710.1" fill="none" stroke="#000" stroke-width="4.17" stroke-dasharray="4.17 6.875" stroke-dashoffset="2.8"/>
<polyline points="2129.0,722.0 2208.0,702.2 2294.8,686.4 2314.6,698.3 2326.4,710.1 2373.8,725.9" fill="none" stroke="#000" stroke-width="4.17" stroke-dasharray="4.17 6.875"/>
<polyline points="2129.0,722.0 2208.0,702.2 2294.8,686.4 2314.6,698.3 2326.4,710.1 2373.8,725.9" fill="none" stroke="#000" stroke-width="4.17" stroke-dasharray="4.17 6.875" stroke-dashoffset="2.8"/>
<polyline points="2326.4,710.1 2334.3,729.9 2326.4,749.6 2330.4,767.0" fill="none" stroke="#000" stroke-width="4.17" stroke-dasharray="4.17 6.875"/>
<polyline points="2326.4,710.1 2334.3,729.9 2326.4,749.6 2330.4,767.0" fill="none" stroke="#000" stroke-width="4.17" stroke-dasharray="4.17 6.875" stroke-dashoffset="2.8"/>
<polyline points="2129.0,603.5 2176.4,583.8 2208.0,571.9 2239.5,552.2 2255.3,524.5 2283.0,500.8" fill="none" stroke="#000" stroke-width="4.17" stroke-dasharray="4.17 6.875"/>
<polyline points="2129.0,603.5 2176.4,583.8 2208.0,571.9 2239.5,552.2 2255.3,524.5 2283.0,500.8" fill="none" stroke="#000" stroke-width="4.17" stroke-dasharray="4.17 6.875" stroke-dashoffset="2.8"/>
<polyline points="2129.0,623.3 2168.5,611.4 2215.9,603.5 2239.5,587.7" fill="none" stroke="#000" stroke-width="4.17" stroke-dasharray="4.17 6.875"/>
<polyline points="2129.0,623.3 2168.5,611.4 2215.9,603.5 2239.5,587.7" fill="none" stroke="#000" stroke-width="4.17" stroke-dasharray="4.17 6.875" stroke-dashoffset="2.8"/>
<polyline points="2129.0,639.0 2180.3,631.1 2219.8,619.3 2239.5,595.6" fill="none" stroke="#000" stroke-width="4.17" stroke-dasharray="4.17 6.875"/>
<polyline points="2129.0,639.0 2180.3,631.1 2219.8,619.3 2239.5,595.6" fill="none" stroke="#000" stroke-width="4.17" stroke-dasharray="4.17 6.875" stroke-dashoffset="2.8"/>
<polyline points="2586.6,393.9 2580.6,389.9 2572.6,377.8 2568.5,369.8 2560.5,371.8 2552.5,369.8 2548.5,357.7 2544.4,347.7 2536.4,323.6 2528.4,301.5 2524.4,293.5 2502.3,284.4 2494.2,289.4 2482.2,301.5 2472.1,297.5 2464.1,291.5 2460.1,293.5" fill="none" stroke="#000" stroke-width="4.17" stroke-dasharray="4.17 6.875"/>
<polyline points="2586.6,393.9 2580.6,389.9 2572.6,377.8 2568.5,369.8 2560.5,371.8 2552.5,369.8 2548.5,357.7 2544.4,347.7 2536.4,323.6 2528.4,301.5 2524.4,293.5 2502.3,284.4 2494.2,289.4 2482.2,301.5 2472.1,297.5 2464.1,291.5 2460.1,293.5" fill="none" stroke="#000" stroke-width="4.17" stroke-dasharray="4.17 6.875" stroke-dashoffset="2.8"/>
<polyline points="2486.2,253.3 2492.2,273.4 2488.2,281.4 2480.2,289.4 2472.1,297.5" fill="none" stroke="#000" stroke-width="4.17" stroke-dasharray="4.17 6.875"/>
<polyline points="2486.2,253.3 2492.2,273.4 2488.2,281.4 2480.2,289.4 2472.1,297.5" fill="none" stroke="#000" stroke-width="4.17" stroke-dasharray="4.17 6.875" stroke-dashoffset="2.8"/>
<polyline points="2486.2,253.3 2500.3,243.3 2512.3,237.2 2524.4,241.3 2540.4,233.2 2546.4,225.2" fill="none" stroke="#000" stroke-width="4.17" stroke-dasharray="4.17 6.875"/>
<polyline points="2486.2,253.3 2500.3,243.3 2512.3,237.2 2524.4,241.3 2540.4,233.2 2546.4,225.2" fill="none" stroke="#000" stroke-width="4.17" stroke-dasharray="4.17 6.875" stroke-dashoffset="2.8"/>
<polyline points="256.0,767.0 244.2,806.5 431.7,1110.6" fill="none" stroke="#000" stroke-width="4.17" stroke-dasharray="4.17 6.875"/>
<polyline points="256.0,767.0 244.2,806.5 431.7,1110.6" fill="none" stroke="#000" stroke-width="4.17" stroke-dasharray="4.17 6.875" stroke-dashoffset="2.8"/>
<polyline points="544.2,770.9 490.9,1000.0" fill="none" stroke="#000" stroke-width="4.17" stroke-dasharray="4.17 6.875"/>
<polyline points="544.2,770.9 490.9,1000.0" fill="none" stroke="#000" stroke-width="4.17" stroke-dasharray="4.17 6.875" stroke-dashoffset="2.8"/>
<polyline points="490.9,1000.0 729.0,1047.4" fill="none" stroke="#000" stroke-width="4.17" stroke-dasharray="4.17 6.875"/>
<polyline points="490.9,1000.0 729.0,1047.4" fill="none" stroke="#000" stroke-width="4.17" stroke-dasharray="4.17 6.875" stroke-dashoffset="2.8"/>
<polyline points="490.9,1000.0 475.1,1051.3 463.3,1043.4 447.5,1043.4 441.6,1051.3 439.6,1086.9 431.7,1110.6" fill="none" stroke="#000" stroke-width="4.17" stroke-dasharray="4.17 6.875"/>
<polyline points="490.9,1000.0 475.1,1051.3 463.3,1043.4 447.5,1043.4 441.6,1051.3 439.6,1086.9 431.7,1110.6" fill="none" stroke="#000" stroke-width="4.17" stroke-dasharray="4.17 6.875" stroke-dashoffset="2.8"/>
<polyline points="431.7,1110.6 439.6,1146.1 447.5,1158.0 427.8,1169.8 419.9,1189.6 404.1,1209.3 402.1,1229.0 408.0,1240.9 400.1,1252.7 384.3,1258.7" fill="none" stroke="#000" stroke-width="4.17" stroke-dasharray="4.17 6.875"/>
<polyline points="431.7,1110.6 439.6,1146.1 447.5,1158.0 427.8,1169.8 419.9,1189.6 404.1,1209.3 402.1,1229.0 408.0,1240.9 400.1,1252.7 384.3,1258.7" fill="none" stroke="#000" stroke-width="4.17" stroke-dasharray="4.17 6.875" stroke-dashoffset="2.8"/>
<polyline points="729.0,1067.1 678.5,1357.0" fill="none" stroke="#000" stroke-width="4.17" stroke-dasharray="4.17 6.875"/>
<polyline points="729.0,1067.1 678.5,1357.0" fill="none" stroke="#000" stroke-width="4.17" stroke-dasharray="4.17 6.875" stroke-dashoffset="2.8"/>
<polyline points="684.4,767.0 682.4,790.7 729.0,798.6" fill="none" stroke="#000" stroke-width="4.17" stroke-dasharray="4.17 6.875"/>
<polyline points="684.4,767.0 682.4,790.7 729.0,798.6" fill="none" stroke="#000" stroke-width="4.17" stroke-dasharray="4.17 6.875" stroke-dashoffset="2.8"/>
<polyline points="269.8,1227.1 384.3,1246.8" fill="none" stroke="#000" stroke-width="4.17" stroke-dasharray="4.17 6.875"/>
<polyline points="269.8,1227.1 384.3,1246.8" fill="none" stroke="#000" stroke-width="4.17" stroke-dasharray="4.17 6.875" stroke-dashoffset="2.8"/>
<polyline points="384.3,1258.7 538.3,1357.0" fill="none" stroke="#000" stroke-width="4.17" stroke-dasharray="4.17 6.875"/>
<polyline points="384.3,1258.7 538.3,1357.0" fill="none" stroke="#000" stroke-width="4.17" stroke-dasharray="4.17 6.875" stroke-dashoffset="2.8"/>
<polyline points="729.0,800.6 1001.4,840.1 1092.2,849.9 1090.3,909.2 1074.5,1092.8" fill="none" stroke="#000" stroke-width="4.17" stroke-dasharray="4.17 6.875"/>
<polyline points="729.0,800.6 1001.4,840.1 1092.2,849.9 1090.3,909.2 1074.5,1092.8" fill="none" stroke="#000" stroke-width="4.17" stroke-dasharray="4.17 6.875" stroke-dashoffset="2.8"/>
<polyline points="1001.4,840.1 1009.3,767.0" fill="none" stroke="#000" stroke-width="4.17" stroke-dasharray="4.17 6.875"/>
<polyline points="1001.4,840.1 1009.3,767.0" fill="none" stroke="#000" stroke-width="4.17" stroke-dasharray="4.17 6.875" stroke-dashoffset="2.8"/>
<polyline points="1090.3,909.2 1400.2,921.0" fill="none" stroke="#000" stroke-width="4.17" stroke-dasharray="4.17 6.875"/>
<polyline points="1090.3,909.2 1400.2,921.0" fill="none" stroke="#000" stroke-width="4.17" stroke-dasharray="4.17 6.875" stroke-dashoffset="2.8"/>
<polyline points="770.5,816.4 729.0,1049.4" fill="none" stroke="#000" stroke-width="4.17" stroke-dasharray="4.17 6.875"/>
<polyline points="770.5,816.4 729.0,1049.4" fill="none" stroke="#000" stroke-width="4.17" stroke-dasharray="4.17 6.875" stroke-dashoffset="2.8"/>
<polyline points="729.0,1048.2 1025.1,1088.9 1074.5,1092.8 1429.0,1106.6" fill="none" stroke="#000" stroke-width="4.17" stroke-dasharray="4.17 6.875"/>
<polyline points="729.0,1048.2 1025.1,1088.9 1074.5,1092.8 1429.0,1106.6" fill="none" stroke="#000" stroke-width="4.17" stroke-dasharray="4.17 6.875" stroke-dashoffset="2.8"/>
<polyline points="1025.1,1088.9 1023.1,1116.5 1171.2,1128.3 1165.3,1246.8 1179.1,1260.6 1198.8,1258.7 1206.7,1272.5 1242.3,1280.4 1258.0,1278.4 1273.8,1296.2 1289.6,1290.3 1309.4,1300.1 1317.3,1292.2 1333.1,1296.2 1350.8,1308.0 1368.6,1296.2 1392.3,1294.2 1408.1,1292.2 1429.0,1304.1" fill="none" stroke="#000" stroke-width="4.17" stroke-dasharray="4.17 6.875"/>
<polyline points="1025.1,1088.9 1023.1,1116.5 1171.2,1128.3 1165.3,1246.8 1179.1,1260.6 1198.8,1258.7 1206.7,1272.5 1242.3,1280.4 1258.0,1278.4 1273.8,1296.2 1289.6,1290.3 1309.4,1300.1 1317.3,1292.2 1333.1,1296.2 1350.8,1308.0 1368.6,1296.2 1392.3,1294.2 1408.1,1292.2 1429.0,1304.1" fill="none" stroke="#000" stroke-width="4.17" stroke-dasharray="4.17 6.875" stroke-dashoffset="2.8"/>
<polyline points="1023.1,1116.5 997.5,1357.0" fill="none" stroke="#000" stroke-width="4.17" stroke-dasharray="4.17 6.875"/>
<polyline points="1023.1,1116.5 997.5,1357.0" fill="none" stroke="#000" stroke-width="4.17" stroke-dasharray="4.17 6.875" stroke-dashoffset="2.8"/>
<polyline points="1344.9,767.0 1356.7,774.9 1368.6,810.4 1370.6,826.2 1380.4,846.0 1378.5,873.6 1392.3,901.3 1400.2,921.0 1419.9,932.9 1416.0,948.7 1429.0,968.4" fill="none" stroke="#000" stroke-width="4.17" stroke-dasharray="4.17 6.875"/>
<polyline points="1344.9,767.0 1356.7,774.9 1368.6,810.4 1370.6,826.2 1380.4,846.0 1378.5,873.6 1392.3,901.3 1400.2,921.0 1419.9,932.9 1416.0,948.7 1429.0,968.4" fill="none" stroke="#000" stroke-width="4.17" stroke-dasharray="4.17 6.875" stroke-dashoffset="2.8"/>
<polyline points="1384.4,883.5 1429.0,883.5" fill="none" stroke="#000" stroke-width="4.17" stroke-dasharray="4.17 6.875"/>
<polyline points="1384.4,883.5 1429.0,883.5" fill="none" stroke="#000" stroke-width="4.17" stroke-dasharray="4.17 6.875" stroke-dashoffset="2.8"/>
<polyline points="1429.0,883.5 1569.2,879.6 1583.0,893.4" fill="none" stroke="#000" stroke-width="4.17" stroke-dasharray="4.17 6.875"/>
<polyline points="1429.0,883.5 1569.2,879.6 1583.0,893.4" fill="none" stroke="#000" stroke-width="4.17" stroke-dasharray="4.17 6.875" stroke-dashoffset="2.8"/>
<polyline points="1634.3,786.7 1626.4,814.4 1602.7,830.2 1598.8,846.0 1602.7,857.8 1586.9,881.5 1583.0,893.4" fill="none" stroke="#000" stroke-width="4.17" stroke-dasharray="4.17 6.875"/>
<polyline points="1634.3,786.7 1626.4,814.4 1602.7,830.2 1598.8,846.0 1602.7,857.8 1586.9,881.5 1583.0,893.4" fill="none" stroke="#000" stroke-width="4.17" stroke-dasharray="4.17 6.875" stroke-dashoffset="2.8"/>
<polyline points="1583.0,893.4 1583.0,917.1 1590.9,932.9 1614.6,952.6 1626.4,972.4 1634.3,980.3 1650.1,982.2 1642.2,1015.8 1650.1,1029.6 1673.8,1043.4 1685.6,1051.3 1689.6,1071.1 1691.5,1082.9 1701.4,1092.8 1709.3,1098.7 1709.3,1114.5 1701.4,1122.4 1689.6,1122.4 1685.6,1138.2 1677.7,1161.9 1669.8,1193.5 1665.9,1213.3 1661.9,1217.2 1650.1,1229.0 1646.1,1248.8 1642.2,1256.7 1630.4,1272.5 1622.5,1284.3 1618.5,1300.1 1622.5,1327.8 1622.5,1357.0" fill="none" stroke="#000" stroke-width="4.17" stroke-dasharray="4.17 6.875"/>
<polyline points="1583.0,893.4 1583.0,917.1 1590.9,932.9 1614.6,952.6 1626.4,972.4 1634.3,980.3 1650.1,982.2 1642.2,1015.8 1650.1,1029.6 1673.8,1043.4 1685.6,1051.3 1689.6,1071.1 1691.5,1082.9 1701.4,1092.8 1709.3,1098.7 1709.3,1114.5 1701.4,1122.4 1689.6,1122.4 1685.6,1138.2 1677.7,1161.9 1669.8,1193.5 1665.9,1213.3 1661.9,1217.2 1650.1,1229.0 1646.1,1248.8 1642.2,1256.7 1630.4,1272.5 1622.5,1284.3 1618.5,1300.1 1622.5,1327.8 1622.5,1357.0" fill="none" stroke="#000" stroke-width="4.17" stroke-dasharray="4.17 6.875" stroke-dashoffset="2.8"/>
<polyline points="1436.9,972.4 1436.9,1138.2" fill="none" stroke="#000" stroke-width="4.17" stroke-dasharray="4.17 6.875"/>
<polyline points="1436.9,972.4 1436.9,1138.2" fill="none" stroke="#000" stroke-width="4.17" stroke-dasharray="4.17 6.875" stroke-dashoffset="2.8"/>
<polyline points="1436.9,1136.2 1658.0,1128.3 1663.9,1134.3 1665.9,1138.2 1650.1,1158.0 1683.7,1158.0" fill="none" stroke="#000" stroke-width="4.17" stroke-dasharray="4.17 6.875"/>
<polyline points="1436.9,1136.2 1658.0,1128.3 1663.9,1134.3 1665.9,1138.2 1650.1,1158.0 1683.7,1158.0" fill="none" stroke="#000" stroke-width="4.17" stroke-dasharray="4.17 6.875" stroke-dashoffset="2.8"/>
<polyline points="1436.9,1138.2 1448.7,1201.4 1446.8,1308.0 1468.5,1315.9 1472.4,1349.5 1622.5,1345.5" fill="none" stroke="#000" stroke-width="4.17" stroke-dasharray="4.17 6.875"/>
<polyline points="1436.9,1138.2 1448.7,1201.4 1446.8,1308.0 1468.5,1315.9 1472.4,1349.5 1622.5,1345.5" fill="none" stroke="#000" stroke-width="4.17" stroke-dasharray="4.17 6.875" stroke-dashoffset="2.8"/>
<polyline points="1429.0,1304.1 1446.8,1310.0" fill="none" stroke="#000" stroke-width="4.17" stroke-dasharray="4.17 6.875"/>
<polyline points="1429.0,1304.1 1446.8,1310.0" fill="none" stroke="#000" stroke-width="4.17" stroke-dasharray="4.17 6.875" stroke-dashoffset="2.8"/>
<polyline points="1760.6,802.5 1772.5,936.8 1776.4,972.4 1760.6,1007.9 1756.7,1039.5 1754.7,1059.2 1740.9,1067.1 1737.0,1082.9" fill="none" stroke="#000" stroke-width="4.17" stroke-dasharray="4.17 6.875"/>
<polyline points="1760.6,802.5 1772.5,936.8 1776.4,972.4 1760.6,1007.9 1756.7,1039.5 1754.7,1059.2 1740.9,1067.1 1737.0,1082.9" fill="none" stroke="#000" stroke-width="4.17" stroke-dasharray="4.17 6.875" stroke-dashoffset="2.8"/>
<polyline points="1701.4,1092.8 1711.3,1081.0 1740.9,1082.9" fill="none" stroke="#000" stroke-width="4.17" stroke-dasharray="4.17 6.875"/>
<polyline points="1701.4,1092.8 1711.3,1081.0 1740.9,1082.9" fill="none" stroke="#000" stroke-width="4.17" stroke-dasharray="4.17 6.875" stroke-dashoffset="2.8"/>
<polyline points="1756.7,1039.5 1776.4,1029.6 1800.1,1033.6 1815.9,1023.7 1835.7,1009.9 1855.4,1017.8 1863.3,1000.0 1879.1,972.4 1902.8,960.5 1902.8,940.8" fill="none" stroke="#000" stroke-width="4.17" stroke-dasharray="4.17 6.875"/>
<polyline points="1756.7,1039.5 1776.4,1029.6 1800.1,1033.6 1815.9,1023.7 1835.7,1009.9 1855.4,1017.8 1863.3,1000.0 1879.1,972.4 1902.8,960.5 1902.8,940.8" fill="none" stroke="#000" stroke-width="4.17" stroke-dasharray="4.17 6.875" stroke-dashoffset="2.8"/>
<polyline points="1883.0,782.8 1902.8,940.8" fill="none" stroke="#000" stroke-width="4.17" stroke-dasharray="4.17 6.875"/>
<polyline points="1883.0,782.8 1902.8,940.8" fill="none" stroke="#000" stroke-width="4.17" stroke-dasharray="4.17 6.875" stroke-dashoffset="2.8"/>
<polyline points="1902.8,940.8 1918.6,940.8 1934.4,956.6 1962.0,960.5 1997.5,952.6 2017.3,968.4 2017.3,984.2 2044.9,1015.8 2060.7,1027.6 2076.5,1033.6 2092.3,1025.7 2129.0,1007.9" fill="none" stroke="#000" stroke-width="4.17" stroke-dasharray="4.17 6.875"/>
<polyline points="1902.8,940.8 1918.6,940.8 1934.4,956.6 1962.0,960.5 1997.5,952.6 2017.3,968.4 2017.3,984.2 2044.9,1015.8 2060.7,1027.6 2076.5,1033.6 2092.3,1025.7 2129.0,1007.9" fill="none" stroke="#000" stroke-width="4.17" stroke-dasharray="4.17 6.875" stroke-dashoffset="2.8"/>
<polyline points="2017.3,968.4 2033.1,932.9 2052.8,905.2 2080.4,881.5 2084.4,826.2 2076.5,767.0" fill="none" stroke="#000" stroke-width="4.17" stroke-dasharray="4.17 6.875"/>
<polyline points="2017.3,968.4 2033.1,932.9 2052.8,905.2 2080.4,881.5 2084.4,826.2 2076.5,767.0" fill="none" stroke="#000" stroke-width="4.17" stroke-dasharray="4.17 6.875" stroke-dashoffset="2.8"/>
<polyline points="2076.5,767.0 2098.2,871.7 2129.0,865.7" fill="none" stroke="#000" stroke-width="4.17" stroke-dasharray="4.17 6.875"/>
<polyline points="2076.5,767.0 2098.2,871.7 2129.0,865.7" fill="none" stroke="#000" stroke-width="4.17" stroke-dasharray="4.17 6.875" stroke-dashoffset="2.8"/>
<polyline points="1760.6,802.5 1792.2,790.7 1883.0,782.8 1942.3,772.9 1973.8,782.8 1997.5,782.8 2029.1,770.9" fill="none" stroke="#000" stroke-width="4.17" stroke-dasharray="4.17 6.875"/>
<polyline points="1760.6,802.5 1792.2,790.7 1883.0,782.8 1942.3,772.9 1973.8,782.8 1997.5,782.8 2029.1,770.9" fill="none" stroke="#000" stroke-width="4.17" stroke-dasharray="4.17 6.875" stroke-dashoffset="2.8"/>
<polyline points="1701.4,1122.4 1764.6,1118.5 1764.6,1106.6 1914.6,1094.8 1981.7,1084.9 2076.5,1071.1 2129.0,1063.2" fill="none" stroke="#000" stroke-width="4.17" stroke-dasharray="4.17 6.875"/>
<polyline points="1701.4,1122.4 1764.6,1118.5 1764.6,1106.6 1914.6,1094.8 1981.7,1084.9 2076.5,1071.1 2129.0,1063.2" fill="none" stroke="#000" stroke-width="4.17" stroke-dasharray="4.17 6.875" stroke-dashoffset="2.8"/>
<polyline points="1981.7,1084.9 2021.2,1051.3 2048.9,1023.7" fill="none" stroke="#000" stroke-width="4.17" stroke-dasharray="4.17 6.875"/>
<polyline points="1981.7,1084.9 2021.2,1051.3 2048.9,1023.7" fill="none" stroke="#000" stroke-width="4.17" stroke-dasharray="4.17 6.875" stroke-dashoffset="2.8"/>
<polyline points="1960.0,1185.6 1969.9,1161.9 2017.3,1134.3 2037.0,1114.5 2060.7,1098.7 2076.5,1082.9 2076.5,1071.1" fill="none" stroke="#000" stroke-width="4.17" stroke-dasharray="4.17 6.875"/>
<polyline points="1960.0,1185.6 1969.9,1161.9 2017.3,1134.3 2037.0,1114.5 2060.7,1098.7 2076.5,1082.9 2076.5,1071.1" fill="none" stroke="#000" stroke-width="4.17" stroke-dasharray="4.17 6.875" stroke-dashoffset="2.8"/>
<polyline points="1661.9,1217.2 1768.5,1211.3 1894.9,1197.5 2021.2,1179.7 2056.7,1159.9 2129.0,1152.0" fill="none" stroke="#000" stroke-width="4.17" stroke-dasharray="4.17 6.875"/>
<polyline points="1661.9,1217.2 1768.5,1211.3 1894.9,1197.5 2021.2,1179.7 2056.7,1159.9 2129.0,1152.0" fill="none" stroke="#000" stroke-width="4.17" stroke-dasharray="4.17 6.875" stroke-dashoffset="2.8"/>
<polyline points="2021.2,1179.7 2013.3,1197.5 2037.0,1211.3 2060.7,1236.9 2100.2,1268.5 2129.0,1292.2" fill="none" stroke="#000" stroke-width="4.17" stroke-dasharray="4.17 6.875"/>
<polyline points="2021.2,1179.7 2013.3,1197.5 2037.0,1211.3 2060.7,1236.9 2100.2,1268.5 2129.0,1292.2" fill="none" stroke="#000" stroke-width="4.17" stroke-dasharray="4.17 6.875" stroke-dashoffset="2.8"/>
<polyline points="1770.5,1211.3 1770.5,1357.0" fill="none" stroke="#000" stroke-width="4.17" stroke-dasharray="4.17 6.875"/>
<polyline points="1770.5,1211.3 1770.5,1357.0" fill="none" stroke="#000" stroke-width="4.17" stroke-dasharray="4.17 6.875" stroke-dashoffset="2.8"/>
<polyline points="1894.9,1197.5 1950.2,1357.0" fill="none" stroke="#000" stroke-width="4.17" stroke-dasharray="4.17 6.875"/>
<polyline points="1894.9,1197.5 1950.2,1357.0" fill="none" stroke="#000" stroke-width="4.17" stroke-dasharray="4.17 6.875" stroke-dashoffset="2.8"/>
<polyline points="2129.0,863.8 2208.0,849.9 2314.6,822.3 2326.4,814.4" fill="none" stroke="#000" stroke-width="4.17" stroke-dasharray="4.17 6.875"/>
<polyline points="2129.0,863.8 2208.0,849.9 2314.6,822.3 2326.4,814.4" fill="none" stroke="#000" stroke-width="4.17" stroke-dasharray="4.17 6.875" stroke-dashoffset="2.8"/>
<polyline points="2332.3,767.0 2356.0,786.7 2344.2,802.5 2326.4,814.4" fill="none" stroke="#000" stroke-width="4.17" stroke-dasharray="4.17 6.875"/>
<polyline points="2332.3,767.0 2356.0,786.7 2344.2,802.5 2326.4,814.4" fill="none" stroke="#000" stroke-width="4.17" stroke-dasharray="4.17 6.875" stroke-dashoffset="2.8"/>
<polyline points="2318.5,830.2 2338.2,897.3 2365.9,893.4" fill="none" stroke="#000" stroke-width="4.17" stroke-dasharray="4.17 6.875"/>
<polyline points="2318.5,830.2 2338.2,897.3 2365.9,893.4" fill="none" stroke="#000" stroke-width="4.17" stroke-dasharray="4.17 6.875" stroke-dashoffset="2.8"/>
<polyline points="2144.8,863.8 2152.7,889.4 2168.5,877.6 2188.2,865.7 2200.1,865.7 2219.8,873.6 2231.7,869.7 2247.4,879.6 2275.1,885.5" fill="none" stroke="#000" stroke-width="4.17" stroke-dasharray="4.17 6.875"/>
<polyline points="2144.8,863.8 2152.7,889.4 2168.5,877.6 2188.2,865.7 2200.1,865.7 2219.8,873.6 2231.7,869.7 2247.4,879.6 2275.1,885.5" fill="none" stroke="#000" stroke-width="4.17" stroke-dasharray="4.17 6.875" stroke-dashoffset="2.8"/>
<polyline points="2200.1,865.7 2200.1,885.5 2180.3,913.1 2172.4,932.9 2152.7,932.9 2144.8,956.6 2132.9,996.0 2129.0,1011.8" fill="none" stroke="#000" stroke-width="4.17" stroke-dasharray="4.17 6.875"/>
<polyline points="2200.1,865.7 2200.1,885.5 2180.3,913.1 2172.4,932.9 2152.7,932.9 2144.8,956.6 2132.9,996.0 2129.0,1011.8" fill="none" stroke="#000" stroke-width="4.17" stroke-dasharray="4.17 6.875" stroke-dashoffset="2.8"/>
<polyline points="2129.0,1061.2 2247.4,1039.5 2354.0,1015.8" fill="none" stroke="#000" stroke-width="4.17" stroke-dasharray="4.17 6.875"/>
<polyline points="2129.0,1061.2 2247.4,1039.5 2354.0,1015.8" fill="none" stroke="#000" stroke-width="4.17" stroke-dasharray="4.17 6.875" stroke-dashoffset="2.8"/>
<polyline points="2129.0,1156.0 2140.8,1169.8 2196.1,1161.9 2263.2,1205.4" fill="none" stroke="#000" stroke-width="4.17" stroke-dasharray="4.17 6.875"/>
<polyline points="2129.0,1156.0 2140.8,1169.8 2196.1,1161.9 2263.2,1205.4" fill="none" stroke="#000" stroke-width="4.17" stroke-dasharray="4.17 6.875" stroke-dashoffset="2.8"/>
<polyline points="2129.0,1304.1 2144.8,1319.9 2160.6,1339.6" fill="none" stroke="#000" stroke-width="4.17" stroke-dasharray="4.17 6.875"/>
<polyline points="2129.0,1304.1 2144.8,1319.9 2160.6,1339.6" fill="none" stroke="#000" stroke-width="4.17" stroke-dasharray="4.17 6.875" stroke-dashoffset="2.8"/>
<polyline points="520.0,1346.2 567.7,1376.5 619.4,1385.2 671.9,1395.0 715.8,1402.8 719.7,1377.4 724.5,1374.5 760.0,1381.3" fill="none" stroke="#000" stroke-width="4.17" stroke-dasharray="4.17 6.875"/>
<polyline points="520.0,1346.2 567.7,1376.5 619.4,1385.2 671.9,1395.0 715.8,1402.8 719.7,1377.4 724.5,1374.5 760.0,1381.3" fill="none" stroke="#000" stroke-width="4.17" stroke-dasharray="4.17 6.875" stroke-dashoffset="2.8"/>
<polyline points="691.4,1282.9 671.9,1395.0" fill="none" stroke="#000" stroke-width="4.17" stroke-dasharray="4.17 6.875"/>
<polyline points="691.4,1282.9 671.9,1395.0" fill="none" stroke="#000" stroke-width="4.17" stroke-dasharray="4.17 6.875" stroke-dashoffset="2.8"/>
<polyline points="729.0,1376.7 792.2,1384.6 806.0,1388.5" fill="none" stroke="#000" stroke-width="4.17" stroke-dasharray="4.17 6.875"/>
<polyline points="729.0,1376.7 792.2,1384.6 806.0,1388.5" fill="none" stroke="#000" stroke-width="4.17" stroke-dasharray="4.17 6.875" stroke-dashoffset="2.8"/>
<polyline points="804.0,1372.7 991.5,1394.5 997.5,1353.0" fill="none" stroke="#000" stroke-width="4.17" stroke-dasharray="4.17 6.875"/>
<polyline points="804.0,1372.7 991.5,1394.5 997.5,1353.0" fill="none" stroke="#000" stroke-width="4.17" stroke-dasharray="4.17 6.875" stroke-dashoffset="2.8"/>
<polyline points="806.0,1388.5 823.8,1408.3 843.5,1428.0 859.3,1443.8 883.0,1467.5 890.9,1483.3 894.8,1511.0 902.7,1530.7 926.4,1558.4 946.1,1568.2 965.9,1582.0 981.7,1570.2 993.5,1550.5 1005.4,1536.6 1025.1,1532.7 1037.0,1538.6 1064.6,1540.6 1076.4,1550.5 1096.2,1574.2 1110.0,1589.9 1115.9,1609.7 1127.8,1637.3 1147.5,1665.0 1167.2,1684.7 1169.2,1708.4 1175.1,1728.2 1183.0,1740.0 1187.0,1759.8 1210.7,1771.6 1234.4,1783.5 1265.9,1789.4 1285.7,1799.3 1297.5,1789.4" fill="none" stroke="#000" stroke-width="4.17" stroke-dasharray="4.17 6.875"/>
<polyline points="806.0,1388.5 823.8,1408.3 843.5,1428.0 859.3,1443.8 883.0,1467.5 890.9,1483.3 894.8,1511.0 902.7,1530.7 926.4,1558.4 946.1,1568.2 965.9,1582.0 981.7,1570.2 993.5,1550.5 1005.4,1536.6 1025.1,1532.7 1037.0,1538.6 1064.6,1540.6 1076.4,1550.5 1096.2,1574.2 1110.0,1589.9 1115.9,1609.7 1127.8,1637.3 1147.5,1665.0 1167.2,1684.7 1169.2,1708.4 1175.1,1728.2 1183.0,1740.0 1187.0,1759.8 1210.7,1771.6 1234.4,1783.5 1265.9,1789.4 1285.7,1799.3 1297.5,1789.4" fill="none" stroke="#000" stroke-width="4.17" stroke-dasharray="4.17 6.875" stroke-dashoffset="2.8"/>
<polyline points="1472.4,1353.0 1472.4,1414.2 1488.2,1443.8 1502.0,1471.5 1492.2,1503.1 1492.2,1526.8 1484.3,1546.5" fill="none" stroke="#000" stroke-width="4.17" stroke-dasharray="4.17 6.875"/>
<polyline points="1472.4,1353.0 1472.4,1414.2 1488.2,1443.8 1502.0,1471.5 1492.2,1503.1 1492.2,1526.8 1484.3,1546.5" fill="none" stroke="#000" stroke-width="4.17" stroke-dasharray="4.17 6.875" stroke-dashoffset="2.8"/>
<polyline points="1624.4,1353.0 1626.4,1376.7 1636.3,1388.5 1618.5,1412.2 1608.6,1439.9 1602.7,1471.5 1701.4,1467.5 1705.4,1491.2 1717.2,1514.9" fill="none" stroke="#000" stroke-width="4.17" stroke-dasharray="4.17 6.875"/>
<polyline points="1624.4,1353.0 1626.4,1376.7 1636.3,1388.5 1618.5,1412.2 1608.6,1439.9 1602.7,1471.5 1701.4,1467.5 1705.4,1491.2 1717.2,1514.9" fill="none" stroke="#000" stroke-width="4.17" stroke-dasharray="4.17 6.875" stroke-dashoffset="2.8"/>
<polyline points="1768.5,1353.0 1768.5,1412.2 1776.4,1463.6 1780.4,1499.1" fill="none" stroke="#000" stroke-width="4.17" stroke-dasharray="4.17 6.875"/>
<polyline points="1768.5,1353.0 1768.5,1412.2 1776.4,1463.6 1780.4,1499.1" fill="none" stroke="#000" stroke-width="4.17" stroke-dasharray="4.17 6.875" stroke-dashoffset="2.8"/>
<polyline points="1821.8,1455.7 1823.8,1467.5 1831.7,1483.3" fill="none" stroke="#000" stroke-width="4.17" stroke-dasharray="4.17 6.875"/>
<polyline points="1821.8,1455.7 1823.8,1467.5 1831.7,1483.3" fill="none" stroke="#000" stroke-width="4.17" stroke-dasharray="4.17 6.875" stroke-dashoffset="2.8"/>
<polyline points="1821.8,1455.7 1958.0,1439.9 1967.9,1455.7 2116.0,1443.8 2123.9,1428.0 2119.9,1451.7" fill="none" stroke="#000" stroke-width="4.17" stroke-dasharray="4.17 6.875"/>
<polyline points="1821.8,1455.7 1958.0,1439.9 1967.9,1455.7 2116.0,1443.8 2123.9,1428.0 2119.9,1451.7" fill="none" stroke="#000" stroke-width="4.17" stroke-dasharray="4.17 6.875" stroke-dashoffset="2.8"/>
<polyline points="1950.2,1353.0 1946.2,1384.6 1954.1,1420.1 1958.0,1439.9" fill="none" stroke="#000" stroke-width="4.17" stroke-dasharray="4.17 6.875"/>
<polyline points="1950.2,1353.0 1946.2,1384.6 1954.1,1420.1 1958.0,1439.9" fill="none" stroke="#000" stroke-width="4.17" stroke-dasharray="4.17 6.875" stroke-dashoffset="2.8"/>
<polyline points="216.5,327.1 216.9,331.4 207.8,365.4 201.5,376.4 192.5,399.3 183.0,416.3 178.6,431.7 170.7,440.8 158.5,468.4 149.4,481.1 141.5,488.6 121.4,514.7 123.0,534.8 113.9,556.1 117.8,571.9 113.9,591.7 92.2,631.1 76.4,662.7 88.2,698.3 80.3,729.9 76.4,767.0" fill="none" stroke="#000" stroke-width="4.4" stroke-linejoin="round" stroke-linecap="round"/>
<polyline points="235.6,196.7 230.9,207.9 228.1,221.0 230.9,235.1 232.3,252.0 230.9,261.3 228.1,270.7 227.2,284.8 237.5,290.4 225.3,293.2 226.2,308.2 221.6,317.0" fill="none" stroke="#000" stroke-width="4.4" stroke-linejoin="round" stroke-linecap="round"/>
<polyline points="235.6,196.7 245.0,205.1 253.4,214.5 260.0,220.1 284.3,231.4 290.0,232.3 293.7,237.9 297.5,240.7 304.0,238.8" fill="none" stroke="#000" stroke-width="4.4" stroke-linejoin="round" stroke-linecap="round"/>
<polyline points="235.6,179.8 248.7,192.0 265.6,205.1 277.8,214.5 284.3,212.6 290.0,214.5 291.8,207.9 290.0,195.7 289.0,181.7" fill="none" stroke="#000" stroke-width="4.4" stroke-linejoin="round" stroke-linecap="round"/>
<polyline points="307.8,223.9 314.3,222.0 320.0,229.5 321.8,242.6 320.0,252.0 312.5,259.5 310.6,270.7 307.8,284.8 298.4,291.3 287.2,297.9 275.0,292.3 282.5,284.8 290.0,282.0 298.4,270.7 303.1,263.2 310.6,253.8" fill="none" stroke="#000" stroke-width="4.4" stroke-linejoin="round" stroke-linecap="round"/>
<polyline points="275.0,278.2 284.3,268.8 295.6,258.5 307.8,253.8" fill="none" stroke="#000" stroke-width="4.4" stroke-linejoin="round" stroke-linecap="round"/>
<polyline points="298.4,205.1 303.1,212.6 308.7,222.0" fill="none" stroke="#000" stroke-width="4.4" stroke-linejoin="round" stroke-linecap="round"/>
<polyline points="307.8,205.1 315.3,207.9 312.5,210.7" fill="none" stroke="#000" stroke-width="4.4" stroke-linejoin="round" stroke-linecap="round"/>
<polyline points="317.2,180.7 322.8,186.4 324.6,205.1 321.8,221.0 316.2,222.0" fill="none" stroke="#000" stroke-width="4.4" stroke-linejoin="round" stroke-linecap="round"/>
<polyline points="307.8,225.7 317.2,229.5 321.8,237.0 322.8,250.1" fill="none" stroke="#000" stroke-width="4.4" stroke-linejoin="round" stroke-linecap="round"/>
<polyline points="1956.1,192.8 1965.9,184.9 1975.8,179.0" fill="none" stroke="#000" stroke-width="4.4" stroke-linejoin="round" stroke-linecap="round"/>
<polyline points="1989.6,180.9 2005.4,192.8 2017.3,202.7" fill="none" stroke="#000" stroke-width="4.4" stroke-linejoin="round" stroke-linecap="round"/>
<polyline points="2464.6,177.0 2452.7,188.8 2444.8,216.5 2437.0,244.1 2429.1,267.8 2421.2,295.5 2413.3,327.1 2401.4,342.9 2381.7,362.6 2361.9,378.4 2342.2,406.0 2326.4,433.7 2318.5,453.4 2286.9,500.8" fill="none" stroke="#000" stroke-width="4.4" stroke-linejoin="round" stroke-linecap="round"/>
<polyline points="2286.9,500.8 2322.5,461.3 2334.3,429.7 2350.1,402.1 2369.8,378.4 2393.5,358.7 2413.3,338.9 2429.1,311.3 2440.9,275.7 2452.7,244.1 2472.5,208.6 2496.2,184.9 2508.0,177.0" fill="none" stroke="#000" stroke-width="4.4" stroke-linejoin="round" stroke-linecap="round"/>
<polyline points="2373.8,256.0 2405.4,254.0 2425.1,258.0" fill="none" stroke="#000" stroke-width="4.4" stroke-linejoin="round" stroke-linecap="round"/>
<polyline points="2594.9,398.2 2602.8,413.9 2594.9,421.8 2583.0,433.7 2559.3,453.4 2535.7,461.3 2531.7,485.0 2508.0,500.8 2492.2,516.6 2488.3,540.3 2480.4,571.9 2484.3,583.8 2492.2,587.7 2484.3,611.4 2508.0,619.3 2519.9,635.1 2539.6,635.1 2539.6,623.3 2523.8,613.4" fill="none" stroke="#000" stroke-width="4.4" stroke-linejoin="round" stroke-linecap="round"/>
<polyline points="2539.6,635.1 2519.9,639.0 2508.0,650.9 2496.2,654.8 2484.3,658.8 2476.4,670.6 2464.6,678.5 2444.8,686.4 2421.2,702.2 2397.5,706.2 2377.7,714.1 2381.7,729.9 2373.8,753.6 2377.7,767.0" fill="none" stroke="#000" stroke-width="4.4" stroke-linejoin="round" stroke-linecap="round"/>
<polyline points="2385.6,745.7 2413.3,729.9 2440.9,718.0 2468.5,698.3 2444.8,706.2 2413.3,722.0 2381.7,741.7" fill="none" stroke="#000" stroke-width="4.4" stroke-linejoin="round" stroke-linecap="round"/>
<polyline points="2616.7,179.0 2610.7,189.0 2600.7,199.1 2592.6,203.1 2572.6,202.1 2568.5,209.1 2560.5,215.2 2546.4,225.2" fill="none" stroke="#000" stroke-width="4.4" stroke-linejoin="round" stroke-linecap="round"/>
<polyline points="2546.4,225.2 2560.5,216.2 2582.6,217.2 2596.7,228.2 2608.7,213.1 2626.8,209.1 2629.8,193.1" fill="none" stroke="#000" stroke-width="4.4" stroke-linejoin="round" stroke-linecap="round"/>
<polyline points="2629.8,193.1 2628.8,207.1 2626.8,227.2 2628.8,243.3 2620.8,255.3 2632.8,249.3 2638.8,251.3 2640.8,261.3 2650.9,269.4 2660.9,281.4 2669.0,291.5 2681.0,287.4 2695.1,286.4 2701.1,289.4 2693.1,297.5" fill="none" stroke="#000" stroke-width="4.4" stroke-linejoin="round" stroke-linecap="round"/>
<polyline points="2693.1,297.5 2691.1,305.5 2685.0,313.5 2673.0,309.5 2677.0,317.6 2669.0,331.6 2656.9,343.7 2642.8,357.7 2632.8,369.8 2628.8,363.7 2624.8,369.8 2610.7,377.8 2600.7,391.9 2586.6,393.9" fill="none" stroke="#000" stroke-width="4.4" stroke-linejoin="round" stroke-linecap="round"/>
<polyline points="2693.1,297.5 2711.1,299.5 2729.2,297.5 2753.3,295.5 2765.4,291.5 2781.4,269.4 2791.5,277.4 2807.5,275.4 2823.6,287.4 2823.6,297.5 2817.6,299.5 2801.5,313.5 2781.4,329.6 2765.4,343.7 2749.3,357.7 2741.3,365.8 2733.2,373.8 2721.2,381.8 2719.2,397.9 2713.1,413.9 2707.1,430.0 2699.1,442.1 2693.1,458.1 2685.0,462.1 2669.0,454.1 2660.9,446.1 2652.9,434.0 2646.9,424.0 2648.9,405.9 2656.9,395.9 2664.9,387.8 2677.0,367.8 2691.1,345.7 2701.1,337.6 2711.1,343.7 2715.2,353.7 2709.1,337.6 2735.2,321.6 2717.2,327.6 2701.1,333.6 2683.0,345.7 2675.0,345.7 2677.0,333.6 2685.0,321.6 2691.1,305.5 2693.1,297.5" fill="none" stroke="#000" stroke-width="4.4" stroke-linejoin="round" stroke-linecap="round"/>
<polyline points="2664.9,263.3 2669.0,237.2 2673.0,237.2 2679.0,253.3 2689.0,265.4 2699.1,259.3 2713.1,257.3 2731.2,253.3 2747.3,245.3 2763.4,239.2 2753.3,257.3 2749.3,271.4 2757.3,273.4 2749.3,277.4 2737.2,275.4 2729.2,265.4 2721.2,275.4 2707.1,277.4 2697.1,273.4 2691.1,269.4 2685.0,273.4 2679.0,269.4 2669.0,263.3 2664.9,263.3" fill="none" stroke="#000" stroke-width="4.4" stroke-linejoin="round" stroke-linecap="round"/>
<polyline points="2803.5,181.0 2797.5,197.1 2793.5,217.2 2793.5,243.3 2799.5,261.3 2809.5,271.4 2823.6,269.4" fill="none" stroke="#000" stroke-width="4.4" stroke-linejoin="round" stroke-linecap="round"/>
<polyline points="2741.3,181.0 2749.3,180.0 2753.3,189.0 2747.3,196.1 2742.3,193.1 2741.3,181.0" fill="none" stroke="#000" stroke-width="4.4" stroke-linejoin="round" stroke-linecap="round"/>
<polyline points="2609.7,407.9 2615.7,411.9 2616.7,418.0 2612.3,421.0 2609.7,416.0 2609.7,407.9" fill="none" stroke="#000" stroke-width="4.4" stroke-linejoin="round" stroke-linecap="round"/>
<polyline points="2586.6,393.9 2592.6,399.9 2600.7,407.9 2598.7,418.0 2592.6,422.0" fill="none" stroke="#000" stroke-width="4.4" stroke-linejoin="round" stroke-linecap="round"/>
<polyline points="76.4,767.0 92.2,790.7 92.2,806.5 88.2,816.4 104.0,834.1 108.0,842.0 102.0,853.9 100.1,871.7 108.0,885.5 119.8,897.3 117.8,909.2 108.0,917.1 106.0,932.9 113.9,952.6 121.8,976.3 135.6,1003.9 133.6,1011.8 141.5,1023.7 131.7,1055.3 139.5,1063.2 159.3,1071.1 175.1,1079.0 190.9,1094.8 194.8,1106.6 210.6,1114.5 226.4,1122.4 228.4,1138.2 242.2,1142.2 258.0,1161.9 265.9,1177.7 269.8,1201.4 267.9,1229.0 271.8,1240.9 273.8,1264.6 283.7,1276.4 277.7,1284.3 281.7,1304.1 289.6,1323.8 289.6,1357.0" fill="none" stroke="#000" stroke-width="4.4" stroke-linejoin="round" stroke-linecap="round"/>
<polyline points="104.0,834.1 113.9,820.3 131.7,826.2 155.3,837.3" fill="none" stroke="#000" stroke-width="4.4" stroke-linejoin="round" stroke-linecap="round"/>
<polyline points="109.9,838.1 113.9,853.9 119.8,861.8" fill="none" stroke="#000" stroke-width="4.4" stroke-linejoin="round" stroke-linecap="round"/>
<polyline points="366.6,1357.0 364.6,1331.7 372.5,1296.2 380.4,1308.0 400.1,1323.8 408.0,1331.7 419.9,1325.8 431.7,1335.7 435.7,1347.5 455.4,1357.0" fill="none" stroke="#000" stroke-width="4.4" stroke-linejoin="round" stroke-linecap="round"/>
<polyline points="2391.5,767.0 2393.5,798.6 2389.6,818.3 2377.7,838.1 2367.9,859.8 2361.9,849.9 2350.1,846.0 2338.2,834.1 2328.4,826.2 2334.3,812.4 2346.1,798.6" fill="none" stroke="#000" stroke-width="4.4" stroke-linejoin="round" stroke-linecap="round"/>
<polyline points="2326.4,826.2 2332.3,840.1 2348.1,849.9 2361.9,865.7 2367.9,881.5 2369.8,909.2 2363.9,928.9 2358.0,948.7 2350.1,964.5 2346.1,980.3" fill="none" stroke="#000" stroke-width="4.4" stroke-linejoin="round" stroke-linecap="round"/>
<polyline points="2271.1,885.5 2263.2,913.1 2271.1,921.0 2286.9,921.0 2310.6,925.0 2314.6,932.9" fill="none" stroke="#000" stroke-width="4.4" stroke-linejoin="round" stroke-linecap="round"/>
<polyline points="2277.1,930.9 2294.8,940.8 2310.6,952.6 2318.5,964.5" fill="none" stroke="#000" stroke-width="4.4" stroke-linejoin="round" stroke-linecap="round"/>
<polyline points="2281.0,982.2 2302.7,984.2 2318.5,992.1 2330.4,994.1 2346.1,994.1 2354.0,1007.9 2365.9,1027.6 2377.7,1043.4 2389.6,1055.3 2395.5,1067.1 2397.5,1086.9 2389.6,1092.8" fill="none" stroke="#000" stroke-width="4.4" stroke-linejoin="round" stroke-linecap="round"/>
<polyline points="2314.6,838.1 2302.7,846.0 2294.8,861.8 2302.7,877.6 2310.6,893.4 2322.5,897.3 2334.3,909.2 2342.2,925.0 2344.2,956.6 2346.1,980.3" fill="none" stroke="#000" stroke-width="4.4" stroke-linejoin="round" stroke-linecap="round"/>
<polyline points="2322.5,1043.4 2326.4,1059.2 2342.2,1051.3 2358.0,1043.4 2369.8,1051.3 2373.8,1067.1 2365.9,1082.9 2350.1,1088.9 2334.3,1086.9 2318.5,1088.9" fill="none" stroke="#000" stroke-width="4.4" stroke-linejoin="round" stroke-linecap="round"/>
<polyline points="2322.5,1110.6 2334.3,1118.5 2350.1,1114.5 2361.9,1114.5 2354.0,1134.3 2342.2,1136.2 2326.4,1142.2 2314.6,1146.1" fill="none" stroke="#000" stroke-width="4.4" stroke-linejoin="round" stroke-linecap="round"/>
<polyline points="2314.6,1146.1 2310.6,1158.0 2294.8,1181.7 2290.9,1193.5 2271.1,1201.4 2259.3,1213.3 2247.4,1229.0 2239.5,1248.8 2235.6,1260.6 2223.8,1272.5 2208.0,1288.3 2188.2,1304.1 2172.4,1315.9 2164.5,1331.7 2156.6,1357.0" fill="none" stroke="#000" stroke-width="4.4" stroke-linejoin="round" stroke-linecap="round"/>
<polyline points="2381.7,1094.8 2373.8,1102.7" fill="none" stroke="#000" stroke-width="4.4" stroke-linejoin="round" stroke-linecap="round"/>
<polyline points="2367.9,1114.5 2358.0,1134.3" fill="none" stroke="#000" stroke-width="4.4" stroke-linejoin="round" stroke-linecap="round"/>
<polyline points="293.5,1353.0 291.5,1370.8 299.4,1376.7 297.5,1400.4 299.4,1416.2 321.2,1443.8 333.0,1449.8 364.6,1507.0 368.5,1518.9 360.6,1534.7 348.8,1546.5 333.0,1552.4 305.4,1542.6 305.4,1548.5 325.1,1574.2 327.1,1586.0 344.8,1597.8 356.7,1609.7 366.6,1629.4 376.4,1627.5 388.3,1627.5 394.2,1621.5 394.2,1637.3 408.0,1661.0 427.8,1676.8 435.7,1700.5 437.6,1722.2 431.7,1740.0 423.8,1759.8 417.9,1771.6 423.8,1785.4 443.6,1791.4 463.3,1811.1 483.0,1834.8 502.8,1858.5 514.6,1870.3 520.5,1894.0 522.5,1911.8 530.4,1915.8 550.2,1905.9 562.0,1898.0 565.9,1882.2 554.1,1870.3 550.2,1850.6 538.3,1834.8 526.5,1819.0 520.5,1830.8 512.6,1832.8 502.8,1822.9 500.8,1803.2 508.7,1783.5 502.8,1771.6 498.8,1747.9 494.9,1732.1 487.0,1716.3 487.0,1696.6 483.0,1668.9 481.1,1657.1 471.2,1645.2 463.3,1629.4 455.4,1621.5 449.5,1597.8 431.7,1574.2 431.7,1554.4 431.7,1534.7 419.9,1518.9 417.9,1503.1 410.0,1499.1 404.1,1491.2 400.1,1471.5 384.3,1447.8 368.5,1432.0 360.6,1412.2 360.6,1392.5 366.6,1372.7 364.6,1353.0" fill="none" stroke="#000" stroke-width="4.4" stroke-linejoin="round" stroke-linecap="round"/>
<polyline points="439.6,1353.0 457.4,1360.9 459.3,1368.8 453.4,1374.7 451.4,1396.4 457.4,1412.2 461.3,1432.0 463.3,1447.8 471.2,1471.5 475.1,1491.2 479.1,1503.1 487.0,1518.9 502.8,1546.5 510.7,1562.3 522.5,1582.0 534.4,1588.0 542.3,1589.9 554.1,1593.9 546.2,1609.7 550.2,1629.4 558.0,1641.3 577.8,1653.1 579.8,1672.9 597.5,1676.8 609.4,1692.6 613.3,1708.4 597.5,1720.3 593.6,1740.0 601.5,1751.9 613.3,1755.8 625.2,1763.7 644.9,1779.5 660.7,1795.3 664.6,1826.9 680.4,1838.7 700.2,1862.4 716.0,1882.2 729.0,1905.9" fill="none" stroke="#000" stroke-width="4.4" stroke-linejoin="round" stroke-linecap="round"/>
<polyline points="417.9,1771.6 427.8,1740.0 431.7,1751.9 423.8,1767.7" fill="none" stroke="#000" stroke-width="4.4" stroke-linejoin="round" stroke-linecap="round"/>
<polyline points="423.8,1785.4 443.6,1803.2" fill="none" stroke="#000" stroke-width="4.4" stroke-linejoin="round" stroke-linecap="round"/>
<polyline points="143.5,1412.2 149.4,1410.3 152.2,1422.1 147.4,1430.0 144.7,1424.1 143.5,1412.2" fill="none" stroke="#000" stroke-width="4.4" stroke-linejoin="round" stroke-linecap="round"/>
<polyline points="290.4,1520.8 299.4,1509.0 304.2,1511.0 304.2,1526.8 299.8,1528.7 290.4,1520.8" fill="none" stroke="#000" stroke-width="4.4" stroke-linejoin="round" stroke-linecap="round"/>
<polyline points="406.0,1455.7 412.0,1453.7 419.9,1467.5 425.8,1477.4 425.0,1493.2 419.9,1489.2 410.0,1471.5 406.0,1455.7" fill="none" stroke="#000" stroke-width="4.4" stroke-linejoin="round" stroke-linecap="round"/>
<polyline points="455.4,1511.0 463.3,1493.2 475.1,1489.2 475.1,1503.1 469.2,1518.9 463.3,1518.9 455.4,1511.0" fill="none" stroke="#000" stroke-width="4.4" stroke-linejoin="round" stroke-linecap="round"/>
<polyline points="463.3,1645.2 469.2,1643.3 473.2,1653.1 471.2,1663.0 465.3,1657.1 463.3,1645.2" fill="none" stroke="#000" stroke-width="4.4" stroke-linejoin="round" stroke-linecap="round"/>
<polyline points="489.0,1712.4 492.9,1702.5 499.6,1700.5 496.9,1708.4 489.0,1712.4" fill="none" stroke="#000" stroke-width="4.4" stroke-linejoin="round" stroke-linecap="round"/>
<polyline points="508.7,1769.6 513.8,1767.7 518.6,1779.5 515.4,1781.5 508.7,1769.6" fill="none" stroke="#000" stroke-width="4.4" stroke-linejoin="round" stroke-linecap="round"/>
<polyline points="546.2,1824.9 549.4,1822.9 552.9,1834.8 550.2,1836.8 546.2,1824.9" fill="none" stroke="#000" stroke-width="4.4" stroke-linejoin="round" stroke-linecap="round"/>
<polyline points="1429.0,1582.0 1416.0,1593.9 1400.2,1609.7 1368.6,1629.4 1344.9,1643.3 1325.2,1657.1 1309.4,1672.9 1297.5,1684.7 1289.6,1700.5 1285.7,1716.3 1285.7,1740.0 1291.6,1763.7 1297.5,1789.4 1299.5,1807.1 1289.6,1826.9 1281.7,1846.6 1271.9,1878.2 1265.9,1905.9 1262.0,1943.0" fill="none" stroke="#000" stroke-width="4.4" stroke-linejoin="round" stroke-linecap="round"/>
<polyline points="1265.9,1698.5 1281.7,1708.4 1285.7,1716.3" fill="none" stroke="#000" stroke-width="4.4" stroke-linejoin="round" stroke-linecap="round"/>
<polyline points="1285.7,1674.9 1301.5,1663.0 1315.3,1657.1" fill="none" stroke="#000" stroke-width="4.4" stroke-linejoin="round" stroke-linecap="round"/>
<polyline points="1333.1,1621.5 1341.0,1631.4 1364.6,1625.5" fill="none" stroke="#000" stroke-width="4.4" stroke-linejoin="round" stroke-linecap="round"/>
<polyline points="1423.9,1558.4 1425.8,1582.0" fill="none" stroke="#000" stroke-width="4.4" stroke-linejoin="round" stroke-linecap="round"/>
<polyline points="729.0,1903.9 740.8,1929.6 752.7,1945.4" fill="none" stroke="#000" stroke-width="4.4" stroke-linejoin="round" stroke-linecap="round"/>
<polyline points="2129.0,1657.1 2116.0,1641.3 2108.1,1625.5 2116.0,1609.7 2108.1,1578.1 2106.1,1550.5 2096.2,1538.6 2068.6,1522.8 2041.0,1497.1 2017.3,1489.2 2003.5,1493.2 2001.5,1503.1 1985.7,1514.9 1965.9,1526.8 1950.2,1522.8 1946.2,1511.0 1926.5,1499.1 1902.8,1487.3 1887.0,1483.3 1863.3,1489.2 1843.6,1493.2 1823.8,1499.1 1808.0,1503.1 1784.3,1499.1 1756.7,1499.1 1733.0,1505.0 1713.3,1514.9 1705.4,1522.8 1713.3,1532.7 1721.2,1530.7 1729.1,1528.7 1721.2,1542.6 1713.3,1550.5 1725.1,1562.3 1744.8,1570.2 1752.7,1578.1 1740.9,1586.0 1737.0,1589.9 1729.1,1578.1 1713.3,1566.3 1697.5,1558.4 1693.5,1570.2 1689.6,1586.0 1681.7,1586.0 1669.8,1576.1 1661.9,1584.0 1646.1,1586.0 1630.4,1580.1 1634.3,1570.2 1626.4,1558.4 1614.6,1552.4 1602.7,1548.5 1590.9,1546.5 1583.0,1550.5 1579.0,1554.4 1571.1,1562.3 1555.3,1562.3 1539.5,1556.4 1523.8,1550.5 1508.0,1550.5 1488.2,1552.4 1468.5,1558.4 1448.7,1568.2 1429.0,1586.0" fill="none" stroke="#000" stroke-width="4.4" stroke-linejoin="round" stroke-linecap="round"/>
<polyline points="1673.8,1514.9 1681.7,1507.0 1697.5,1507.0 1713.3,1512.9 1709.3,1522.8 1689.6,1528.7 1675.8,1524.8 1673.8,1514.9" fill="none" stroke="#000" stroke-width="4.4" stroke-linejoin="round" stroke-linecap="round"/>
<polyline points="1756.7,1520.8 1760.6,1532.7 1755.9,1546.5" fill="none" stroke="#000" stroke-width="4.4" stroke-linejoin="round" stroke-linecap="round"/>
<polyline points="1764.6,1507.8 1774.5,1510.2" fill="none" stroke="#000" stroke-width="4.4" stroke-linejoin="round" stroke-linecap="round"/>
<polyline points="1786.3,1507.0 1798.1,1505.0" fill="none" stroke="#000" stroke-width="4.4" stroke-linejoin="round" stroke-linecap="round"/>
<polyline points="1800.1,1499.1 1800.1,1479.4 1806.0,1487.3 1812.0,1499.1" fill="none" stroke="#000" stroke-width="4.4" stroke-linejoin="round" stroke-linecap="round"/>
<polyline points="1847.5,1491.2 1853.4,1481.3 1857.4,1479.4 1857.4,1489.2" fill="none" stroke="#000" stroke-width="4.4" stroke-linejoin="round" stroke-linecap="round"/>
<polyline points="2156.6,1356.9 2152.7,1376.7 2148.7,1396.4 2146.8,1412.2 2148.7,1428.0 2156.6,1447.8 2168.5,1467.5 2188.2,1503.1 2208.0,1530.7 2227.7,1558.4 2239.5,1582.0 2251.4,1605.7 2263.2,1629.4 2275.1,1653.1 2279.0,1668.9 2281.0,1700.5 2277.1,1724.2 2275.1,1747.9 2267.2,1759.8 2255.3,1767.7 2235.6,1771.6 2227.7,1763.7 2215.9,1740.0 2208.0,1732.1 2192.2,1724.2 2176.4,1700.5 2168.5,1692.6 2160.6,1696.6 2156.6,1676.8 2152.7,1668.9 2140.8,1668.9 2129.0,1653.1" fill="none" stroke="#000" stroke-width="4.4" stroke-linejoin="round" stroke-linecap="round"/>
<polyline points="2206.0,1542.6 2219.8,1558.4 2227.7,1574.2" fill="none" stroke="#000" stroke-width="4.4" stroke-linejoin="round" stroke-linecap="round"/>
<polyline points="2279.0,1751.9 2271.1,1767.7 2263.2,1781.5" fill="none" stroke="#000" stroke-width="4.4" stroke-linejoin="round" stroke-linecap="round"/>
<polyline points="2255.3,1789.4 2235.6,1801.2" fill="none" stroke="#000" stroke-width="4.4" stroke-linejoin="round" stroke-linecap="round"/>
<polyline points="2225.7,1805.2 2219.8,1801.2" fill="none" stroke="#000" stroke-width="4.4" stroke-linejoin="round" stroke-linecap="round"/>
<polyline points="2211.9,1809.1 2198.1,1817.0" fill="none" stroke="#000" stroke-width="4.4" stroke-linejoin="round" stroke-linecap="round"/>
<polyline points="2547.5,1803.2 2571.2,1811.1" fill="none" stroke="#000" stroke-width="4.4" stroke-linejoin="round" stroke-linecap="round"/>
<polyline points="2587.0,1791.4 2610.7,1822.9 2628.4,1834.8" fill="none" stroke="#000" stroke-width="4.4" stroke-linejoin="round" stroke-linecap="round"/>
<polyline points="2660.0,1828.9 2677.8,1834.8 2689.6,1830.8 2693.6,1842.7 2673.8,1870.3" fill="none" stroke="#000" stroke-width="4.4" stroke-linejoin="round" stroke-linecap="round"/>
<polyline points="2735.0,1836.8 2760.7,1834.8" fill="none" stroke="#000" stroke-width="4.4" stroke-linejoin="round" stroke-linecap="round"/>
<polyline points="2792.3,1860.5 2804.1,1858.5" fill="none" stroke="#000" stroke-width="4.4" stroke-linejoin="round" stroke-linecap="round"/>
<polyline points="2808.1,1846.6 2819.9,1850.6" fill="none" stroke="#000" stroke-width="4.4" stroke-linejoin="round" stroke-linecap="round"/>
<polyline points="2756.7,1890.1 2764.6,1892.1" fill="none" stroke="#000" stroke-width="4.4" stroke-linejoin="round" stroke-linecap="round"/>
<polyline points="2476.4,1696.6 2500.1,1704.5 2517.9,1712.4 2519.9,1732.1 2523.8,1744.0" fill="none" stroke="#000" stroke-width="4.4" stroke-linejoin="round" stroke-linecap="round"/>
<polyline points="2547.5,1734.1 2563.3,1747.9 2579.1,1759.8 2571.2,1763.7" fill="none" stroke="#000" stroke-width="4.4" stroke-linejoin="round" stroke-linecap="round"/>
<polyline points="2346.1,1901.9 2365.9,1911.8" fill="none" stroke="#000" stroke-width="4.4" stroke-linejoin="round" stroke-linecap="round"/>
<polyline points="2334.3,1651.2 2350.1,1661.0 2365.9,1649.2 2381.7,1643.3 2395.5,1639.3 2393.5,1635.4 2373.8,1641.3 2356.0,1641.3 2354.0,1649.2 2334.3,1651.2" fill="none" stroke="#000" stroke-width="4.4" stroke-linejoin="round" stroke-linecap="round"/>
<polyline points="2389.6,1625.5 2413.3,1621.5 2429.1,1633.4 2444.8,1637.3 2448.8,1649.2 2440.9,1661.0 2444.8,1680.8 2433.0,1674.9 2440.9,1665.0 2437.0,1645.2 2421.2,1629.4 2389.6,1625.5" fill="none" stroke="#000" stroke-width="4.4" stroke-linejoin="round" stroke-linecap="round"/>
<polyline points="2397.5,1736.1 2409.3,1736.1 2421.2,1747.9 2433.0,1759.8 2437.0,1775.6 2429.1,1787.4 2421.2,1791.4 2413.3,1779.5 2393.5,1775.6 2401.4,1763.7 2401.4,1747.9 2397.5,1736.1" fill="none" stroke="#000" stroke-width="4.4" stroke-linejoin="round" stroke-linecap="round"/>
<polyline points="2425.1,1791.4 2440.9,1787.4 2448.8,1795.3 2456.7,1807.1 2456.7,1819.0 2444.8,1822.9 2437.0,1807.1 2429.1,1799.3 2425.1,1791.4" fill="none" stroke="#000" stroke-width="4.4" stroke-linejoin="round" stroke-linecap="round"/>
<polyline points="2437.0,1738.0 2444.8,1732.9 2455.9,1734.1 2448.8,1739.2 2437.0,1738.0" fill="none" stroke="#000" stroke-width="4.4" stroke-linejoin="round" stroke-linecap="round"/>
<polyline points="2626.5,1749.9 2632.4,1751.9 2631.6,1761.7 2627.3,1761.7 2626.5,1749.9" fill="none" stroke="#000" stroke-width="4.4" stroke-linejoin="round" stroke-linecap="round"/>
<polyline points="2405.4,1909.8 2425.1,1905.9 2444.8,1913.8 2464.6,1923.6 2476.4,1929.6 2476.4,1936.7 2460.6,1931.5 2440.9,1921.7 2421.2,1913.8 2405.4,1909.8" fill="none" stroke="#000" stroke-width="4.4" stroke-linejoin="round" stroke-linecap="round"/>
<polyline points="2729.1,1925.6 2744.9,1917.7 2760.7,1905.9 2764.6,1921.7 2756.7,1931.5 2729.1,1937.5 2727.1,1929.6 2729.1,1925.6" fill="none" stroke="#000" stroke-width="4.4" stroke-linejoin="round" stroke-linecap="round"/>
<polyline points="2121.1,1945.4 2129.0,1937.5 2168.5,1921.7 2196.1,1909.8 2227.7,1905.9 2247.4,1901.9 2283.0,1898.0 2306.7,1901.9 2334.3,1901.9 2350.1,1905.9 2365.9,1913.8 2377.7,1925.6 2397.5,1921.7 2413.3,1923.6 2444.8,1933.5 2476.4,1937.5 2496.2,1945.4" fill="none" stroke="#000" stroke-width="4.4" stroke-linejoin="round" stroke-linecap="round"/>
</g>
<rect x="30.5" y="178.5" width="2790.0" height="1763.0" fill="none" stroke="#000" stroke-width="3.33"/>
<rect x="2994.50" y="1597.91" width="73.40" height="134.99" fill="#053061"/>
<rect x="2994.50" y="1463.52" width="73.40" height="134.99" fill="#256baf"/>
<rect x="2994.50" y="1329.13" width="73.40" height="134.99" fill="#559ec9"/>
<rect x="2994.50" y="1194.74" width="73.40" height="134.99" fill="#a7d0e4"/>
<rect x="2994.50" y="1060.35" width="73.40" height="134.99" fill="#e2edf3"/>
<rect x="2994.50" y="925.96" width="73.40" height="134.99" fill="#fae7dc"/>
<rect x="2994.50" y="791.57" width="73.40" height="134.99" fill="#f7b799"/>
<rect x="2994.50" y="657.18" width="73.40" height="134.99" fill="#dd6f59"/>
<rect x="2994.50" y="522.79" width="73.40" height="134.99" fill="#b6202f"/>
<rect x="2994.50" y="388.40" width="73.40" height="134.99" fill="#67001f"/>
<polygon points="2994.5,388.4 3031.2,320.9 3067.9,388.4" fill="#67001f"/>
<polygon points="2994.5,1732.3 3031.2,1799.8 3067.9,1732.3" fill="#053061"/>
<polygon points="2994.5,388.4 3031.2,320.9 3067.9,388.4 3067.9,1732.3 3031.2,1799.8 2994.5,1732.3" fill="none" stroke="#000" stroke-width="3.33" stroke-linejoin="miter"/>
<line x1="3067.90" y1="1732.30" x2="3082.50" y2="1732.30" stroke="#000" stroke-width="3.33"/>
<text x="3097.5" y="1747.50" font-size="41.67">0.0</text>
<line x1="3067.90" y1="1597.91" x2="3082.50" y2="1597.91" stroke="#000" stroke-width="3.33"/>
<text x="3097.5" y="1613.11" font-size="41.67">0.1</text>
<line x1="3067.90" y1="1463.52" x2="3082.50" y2="1463.52" stroke="#000" stroke-width="3.33"/>
<text x="3097.5" y="1478.72" font-size="41.67">0.2</text>
<line x1="3067.90" y1="1329.13" x2="3082.50" y2="1329.13" stroke="#000" stroke-width="3.33"/>
<text x="3097.5" y="1344.33" font-size="41.67">0.3</text>
<line x1="3067.90" y1="1194.74" x2="3082.50" y2="1194.74" stroke="#000" stroke-width="3.33"/>
<text x="3097.5" y="1209.94" font-size="41.67">0.4</text>
<line x1="3067.90" y1="1060.35" x2="3082.50" y2="1060.35" stroke="#000" stroke-width="3.33"/>
<text x="3097.5" y="1075.55" font-size="41.67">0.5</text>
<line x1="3067.90" y1="925.96" x2="3082.50" y2="925.96" stroke="#000" stroke-width="3.33"/>
<text x="3097.5" y="941.16" font-size="41.67">0.6</text>
<line x1="3067.90" y1="791.57" x2="3082.50" y2="791.57" stroke="#000" stroke-width="3.33"/>
<text x="3097.5" y="806.77" font-size="41.67">0.7</text>
<line x1="3067.90" y1="657.18" x2="3082.50" y2="657.18" stroke="#000" stroke-width="3.33"/>
<text x="3097.5" y="672.38" font-size="41.67">0.8</text>
<line x1="3067.90" y1="522.79" x2="3082.50" y2="522.79" stroke="#000" stroke-width="3.33"/>
<text x="3097.5" y="537.99" font-size="41.67">0.9</text>
<line x1="3067.90" y1="388.40" x2="3082.50" y2="388.40" stroke="#000" stroke-width="3.33"/>
<text x="3097.5" y="403.60" font-size="41.67">1.0</text>
<text transform="translate(3211,1060.3) rotate(-90)" font-size="41.67" text-anchor="middle">Hit Rate</text>
</svg></body></html>
